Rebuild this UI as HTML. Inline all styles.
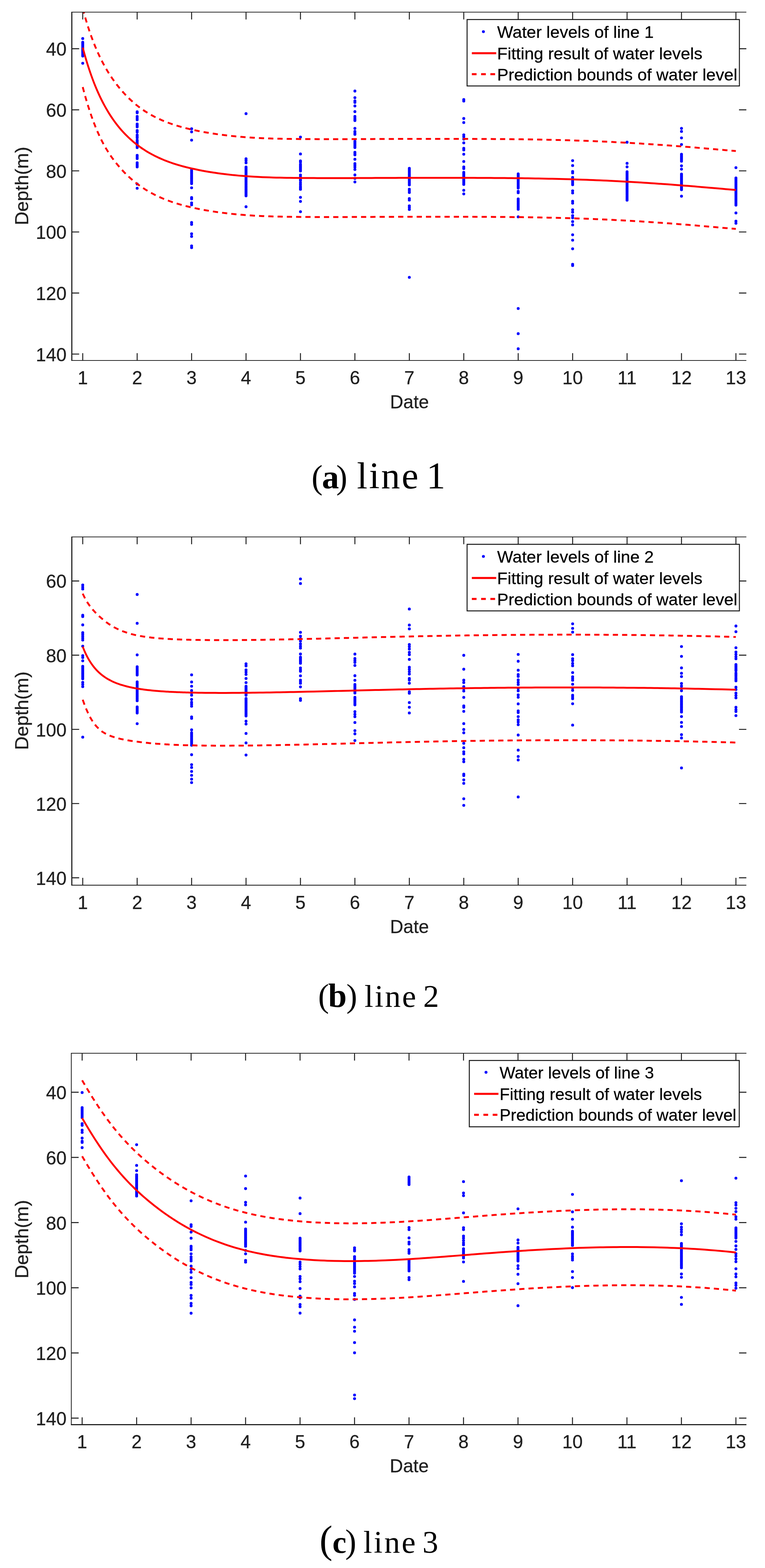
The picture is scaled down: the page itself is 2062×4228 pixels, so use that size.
<!DOCTYPE html>
<html lang="en">
<head>
<meta charset="utf-8">
<title>Water level fitting: line 1, line 2, line 3</title>
<style>html,body{margin:0;padding:0;background:#fff}body{width:2062px;height:4228px;overflow:hidden}svg{display:block}</style>
</head>
<body>
<svg width="2062" height="4228" viewBox="0 0 2062 4228">
<rect width="2062" height="4228" fill="#fff"/>
<g id="plot1">
<clipPath id="clip1"><rect x="193.6" y="32.8" width="1818.1" height="939.2"/></clipPath>
<g clip-path="url(#clip1)">
<g fill="#0000ff"><circle cx="223" cy="103.9" r="3.9"/><circle cx="223" cy="114" r="3.9"/><circle cx="223" cy="117.7" r="3.9"/><circle cx="223" cy="121.4" r="3.9"/><circle cx="223" cy="125.1" r="3.9"/><circle cx="223" cy="128.8" r="3.9"/><circle cx="223" cy="132.5" r="3.9"/><circle cx="223" cy="136.2" r="3.9"/><circle cx="223" cy="139.9" r="3.9"/><circle cx="223" cy="143.6" r="3.9"/><circle cx="223" cy="147.3" r="3.9"/><circle cx="223" cy="151" r="3.9"/><circle cx="223" cy="170.6" r="3.9"/><circle cx="369.72" cy="301.5" r="3.9"/><circle cx="369.72" cy="304" r="3.9"/><circle cx="369.72" cy="314" r="3.9"/><circle cx="369.72" cy="318.5" r="3.9"/><circle cx="369.72" cy="323" r="3.9"/><circle cx="369.72" cy="334.5" r="3.9"/><circle cx="369.72" cy="338.2" r="3.9"/><circle cx="369.72" cy="342" r="3.9"/><circle cx="369.72" cy="352" r="3.9"/><circle cx="369.72" cy="356" r="3.9"/><circle cx="369.72" cy="364" r="3.9"/><circle cx="369.72" cy="367.8" r="3.9"/><circle cx="369.72" cy="371.5" r="3.9"/><circle cx="369.72" cy="378" r="3.9"/><circle cx="369.72" cy="381.3" r="3.9"/><circle cx="369.72" cy="384.7" r="3.9"/><circle cx="369.72" cy="388" r="3.9"/><circle cx="369.72" cy="391.3" r="3.9"/><circle cx="369.72" cy="394.7" r="3.9"/><circle cx="369.72" cy="398" r="3.9"/><circle cx="369.72" cy="419" r="3.9"/><circle cx="369.72" cy="423.2" r="3.9"/><circle cx="369.72" cy="427.5" r="3.9"/><circle cx="369.72" cy="439" r="3.9"/><circle cx="369.72" cy="442.7" r="3.9"/><circle cx="369.72" cy="446.3" r="3.9"/><circle cx="369.72" cy="450" r="3.9"/><circle cx="369.72" cy="496.2" r="3.9"/><circle cx="369.72" cy="507.7" r="3.9"/><circle cx="516.44" cy="347.2" r="3.9"/><circle cx="516.44" cy="355.6" r="3.9"/><circle cx="516.44" cy="377.8" r="3.9"/><circle cx="516.44" cy="458" r="3.9"/><circle cx="516.44" cy="461.7" r="3.9"/><circle cx="516.44" cy="465.4" r="3.9"/><circle cx="516.44" cy="469.1" r="3.9"/><circle cx="516.44" cy="472.8" r="3.9"/><circle cx="516.44" cy="476.5" r="3.9"/><circle cx="516.44" cy="480.2" r="3.9"/><circle cx="516.44" cy="483.9" r="3.9"/><circle cx="516.44" cy="487.6" r="3.9"/><circle cx="516.44" cy="491.3" r="3.9"/><circle cx="516.44" cy="495" r="3.9"/><circle cx="516.44" cy="506.4" r="3.9"/><circle cx="516.44" cy="532.7" r="3.9"/><circle cx="516.44" cy="536.2" r="3.9"/><circle cx="516.44" cy="547.2" r="3.9"/><circle cx="516.44" cy="552.3" r="3.9"/><circle cx="516.44" cy="599.9" r="3.9"/><circle cx="516.44" cy="605" r="3.9"/><circle cx="516.44" cy="630.5" r="3.9"/><circle cx="516.44" cy="637.6" r="3.9"/><circle cx="516.44" cy="663.1" r="3.9"/><circle cx="516.44" cy="667.7" r="3.9"/><circle cx="663.16" cy="306.4" r="3.9"/><circle cx="663.16" cy="428.2" r="3.9"/><circle cx="663.16" cy="433" r="3.9"/><circle cx="663.16" cy="438.9" r="3.9"/><circle cx="663.16" cy="450.4" r="3.9"/><circle cx="663.16" cy="453.9" r="3.9"/><circle cx="663.16" cy="457.5" r="3.9"/><circle cx="663.16" cy="461" r="3.9"/><circle cx="663.16" cy="464.5" r="3.9"/><circle cx="663.16" cy="468.1" r="3.9"/><circle cx="663.16" cy="471.6" r="3.9"/><circle cx="663.16" cy="475.1" r="3.9"/><circle cx="663.16" cy="478.7" r="3.9"/><circle cx="663.16" cy="482.2" r="3.9"/><circle cx="663.16" cy="485.7" r="3.9"/><circle cx="663.16" cy="489.2" r="3.9"/><circle cx="663.16" cy="492.8" r="3.9"/><circle cx="663.16" cy="496.3" r="3.9"/><circle cx="663.16" cy="499.8" r="3.9"/><circle cx="663.16" cy="503.4" r="3.9"/><circle cx="663.16" cy="506.9" r="3.9"/><circle cx="663.16" cy="510.4" r="3.9"/><circle cx="663.16" cy="514" r="3.9"/><circle cx="663.16" cy="517.5" r="3.9"/><circle cx="663.16" cy="521" r="3.9"/><circle cx="663.16" cy="524.6" r="3.9"/><circle cx="663.16" cy="528.1" r="3.9"/><circle cx="663.16" cy="557.4" r="3.9"/><circle cx="809.88" cy="369.6" r="3.9"/><circle cx="809.88" cy="415.2" r="3.9"/><circle cx="809.88" cy="434" r="3.9"/><circle cx="809.88" cy="437" r="3.9"/><circle cx="809.88" cy="443" r="3.9"/><circle cx="809.88" cy="446.6" r="3.9"/><circle cx="809.88" cy="450.2" r="3.9"/><circle cx="809.88" cy="453.8" r="3.9"/><circle cx="809.88" cy="457.4" r="3.9"/><circle cx="809.88" cy="461" r="3.9"/><circle cx="809.88" cy="472" r="3.9"/><circle cx="809.88" cy="477" r="3.9"/><circle cx="809.88" cy="484" r="3.9"/><circle cx="809.88" cy="487" r="3.9"/><circle cx="809.88" cy="493" r="3.9"/><circle cx="809.88" cy="498" r="3.9"/><circle cx="809.88" cy="503" r="3.9"/><circle cx="809.88" cy="506.7" r="3.9"/><circle cx="809.88" cy="510.4" r="3.9"/><circle cx="809.88" cy="532.1" r="3.9"/><circle cx="809.88" cy="543.1" r="3.9"/><circle cx="809.88" cy="570.8" r="3.9"/><circle cx="956.6" cy="245.5" r="3.9"/><circle cx="956.6" cy="263.3" r="3.9"/><circle cx="956.6" cy="272.2" r="3.9"/><circle cx="956.6" cy="276.1" r="3.9"/><circle cx="956.6" cy="285.7" r="3.9"/><circle cx="956.6" cy="301" r="3.9"/><circle cx="956.6" cy="313.8" r="3.9"/><circle cx="956.6" cy="318.1" r="3.9"/><circle cx="956.6" cy="321.9" r="3.9"/><circle cx="956.6" cy="325" r="3.9"/><circle cx="956.6" cy="346.1" r="3.9"/><circle cx="956.6" cy="354.5" r="3.9"/><circle cx="956.6" cy="358.9" r="3.9"/><circle cx="956.6" cy="362.2" r="3.9"/><circle cx="956.6" cy="381" r="3.9"/><circle cx="956.6" cy="384.4" r="3.9"/><circle cx="956.6" cy="387.7" r="3.9"/><circle cx="956.6" cy="391.1" r="3.9"/><circle cx="956.6" cy="394.4" r="3.9"/><circle cx="956.6" cy="397.8" r="3.9"/><circle cx="956.6" cy="410.6" r="3.9"/><circle cx="956.6" cy="414.1" r="3.9"/><circle cx="956.6" cy="417.5" r="3.9"/><circle cx="956.6" cy="429.4" r="3.9"/><circle cx="956.6" cy="441.1" r="3.9"/><circle cx="956.6" cy="445.5" r="3.9"/><circle cx="956.6" cy="450.6" r="3.9"/><circle cx="956.6" cy="456.9" r="3.9"/><circle cx="956.6" cy="471.7" r="3.9"/><circle cx="956.6" cy="481.1" r="3.9"/><circle cx="956.6" cy="490.6" r="3.9"/><circle cx="1103.32" cy="454" r="3.9"/><circle cx="1103.32" cy="457.7" r="3.9"/><circle cx="1103.32" cy="461.4" r="3.9"/><circle cx="1103.32" cy="465.1" r="3.9"/><circle cx="1103.32" cy="468.9" r="3.9"/><circle cx="1103.32" cy="472.6" r="3.9"/><circle cx="1103.32" cy="476.3" r="3.9"/><circle cx="1103.32" cy="480" r="3.9"/><circle cx="1103.32" cy="483.7" r="3.9"/><circle cx="1103.32" cy="487.5" r="3.9"/><circle cx="1103.32" cy="491.2" r="3.9"/><circle cx="1103.32" cy="494.9" r="3.9"/><circle cx="1103.32" cy="498.6" r="3.9"/><circle cx="1103.32" cy="510.1" r="3.9"/><circle cx="1103.32" cy="514.5" r="3.9"/><circle cx="1103.32" cy="519" r="3.9"/><circle cx="1103.32" cy="535.5" r="3.9"/><circle cx="1103.32" cy="539.4" r="3.9"/><circle cx="1103.32" cy="555.2" r="3.9"/><circle cx="1103.32" cy="559.7" r="3.9"/><circle cx="1103.32" cy="564.8" r="3.9"/><circle cx="1103.32" cy="747.8" r="3.9"/><circle cx="1250.04" cy="268.5" r="3.9"/><circle cx="1250.04" cy="272.4" r="3.9"/><circle cx="1250.04" cy="319.5" r="3.9"/><circle cx="1250.04" cy="330.4" r="3.9"/><circle cx="1250.04" cy="363.6" r="3.9"/><circle cx="1250.04" cy="368.7" r="3.9"/><circle cx="1250.04" cy="375" r="3.9"/><circle cx="1250.04" cy="385.2" r="3.9"/><circle cx="1250.04" cy="400" r="3.9"/><circle cx="1250.04" cy="404.3" r="3.9"/><circle cx="1250.04" cy="415.8" r="3.9"/><circle cx="1250.04" cy="435.4" r="3.9"/><circle cx="1250.04" cy="450.2" r="3.9"/><circle cx="1250.04" cy="454.5" r="3.9"/><circle cx="1250.04" cy="464.7" r="3.9"/><circle cx="1250.04" cy="468.3" r="3.9"/><circle cx="1250.04" cy="471.9" r="3.9"/><circle cx="1250.04" cy="475.6" r="3.9"/><circle cx="1250.04" cy="479.2" r="3.9"/><circle cx="1250.04" cy="482.8" r="3.9"/><circle cx="1250.04" cy="486.4" r="3.9"/><circle cx="1250.04" cy="490.1" r="3.9"/><circle cx="1250.04" cy="493.7" r="3.9"/><circle cx="1250.04" cy="497.3" r="3.9"/><circle cx="1250.04" cy="513.1" r="3.9"/><circle cx="1250.04" cy="522.8" r="3.9"/><circle cx="1396.76" cy="468.8" r="3.9"/><circle cx="1396.76" cy="472.3" r="3.9"/><circle cx="1396.76" cy="475.7" r="3.9"/><circle cx="1396.76" cy="479.2" r="3.9"/><circle cx="1396.76" cy="482.7" r="3.9"/><circle cx="1396.76" cy="486.2" r="3.9"/><circle cx="1396.76" cy="489.6" r="3.9"/><circle cx="1396.76" cy="493.1" r="3.9"/><circle cx="1396.76" cy="496.6" r="3.9"/><circle cx="1396.76" cy="500.1" r="3.9"/><circle cx="1396.76" cy="503.5" r="3.9"/><circle cx="1396.76" cy="507" r="3.9"/><circle cx="1396.76" cy="515.9" r="3.9"/><circle cx="1396.76" cy="519.7" r="3.9"/><circle cx="1396.76" cy="536.3" r="3.9"/><circle cx="1396.76" cy="539.8" r="3.9"/><circle cx="1396.76" cy="543.3" r="3.9"/><circle cx="1396.76" cy="546.8" r="3.9"/><circle cx="1396.76" cy="550.3" r="3.9"/><circle cx="1396.76" cy="553.8" r="3.9"/><circle cx="1396.76" cy="557.3" r="3.9"/><circle cx="1396.76" cy="560.8" r="3.9"/><circle cx="1396.76" cy="564.3" r="3.9"/><circle cx="1396.76" cy="584.7" r="3.9"/><circle cx="1396.76" cy="831.8" r="3.9"/><circle cx="1396.76" cy="899.7" r="3.9"/><circle cx="1396.76" cy="940.5" r="3.9"/><circle cx="1543.48" cy="433.1" r="3.9"/><circle cx="1543.48" cy="446.4" r="3.9"/><circle cx="1543.48" cy="462.4" r="3.9"/><circle cx="1543.48" cy="466.2" r="3.9"/><circle cx="1543.48" cy="478.5" r="3.9"/><circle cx="1543.48" cy="482.4" r="3.9"/><circle cx="1543.48" cy="486.3" r="3.9"/><circle cx="1543.48" cy="490.3" r="3.9"/><circle cx="1543.48" cy="494.2" r="3.9"/><circle cx="1543.48" cy="498.1" r="3.9"/><circle cx="1543.48" cy="514.6" r="3.9"/><circle cx="1543.48" cy="520.3" r="3.9"/><circle cx="1543.48" cy="542.7" r="3.9"/><circle cx="1543.48" cy="547.8" r="3.9"/><circle cx="1543.48" cy="565.6" r="3.9"/><circle cx="1543.48" cy="572" r="3.9"/><circle cx="1543.48" cy="581.4" r="3.9"/><circle cx="1543.48" cy="587.3" r="3.9"/><circle cx="1543.48" cy="597.5" r="3.9"/><circle cx="1543.48" cy="606.4" r="3.9"/><circle cx="1543.48" cy="633.1" r="3.9"/><circle cx="1543.48" cy="647.6" r="3.9"/><circle cx="1543.48" cy="670.8" r="3.9"/><circle cx="1543.48" cy="712.6" r="3.9"/><circle cx="1543.48" cy="715.9" r="3.9"/><circle cx="1690.2" cy="383.5" r="3.9"/><circle cx="1690.2" cy="440.4" r="3.9"/><circle cx="1690.2" cy="449.8" r="3.9"/><circle cx="1690.2" cy="463.1" r="3.9"/><circle cx="1690.2" cy="466.7" r="3.9"/><circle cx="1690.2" cy="470.4" r="3.9"/><circle cx="1690.2" cy="474" r="3.9"/><circle cx="1690.2" cy="477.7" r="3.9"/><circle cx="1690.2" cy="481.3" r="3.9"/><circle cx="1690.2" cy="485" r="3.9"/><circle cx="1690.2" cy="488.6" r="3.9"/><circle cx="1690.2" cy="492.3" r="3.9"/><circle cx="1690.2" cy="495.9" r="3.9"/><circle cx="1690.2" cy="499.6" r="3.9"/><circle cx="1690.2" cy="503.2" r="3.9"/><circle cx="1690.2" cy="506.9" r="3.9"/><circle cx="1690.2" cy="510.5" r="3.9"/><circle cx="1690.2" cy="514.2" r="3.9"/><circle cx="1690.2" cy="517.8" r="3.9"/><circle cx="1690.2" cy="521.5" r="3.9"/><circle cx="1690.2" cy="525.1" r="3.9"/><circle cx="1690.2" cy="528.8" r="3.9"/><circle cx="1690.2" cy="532.4" r="3.9"/><circle cx="1690.2" cy="536.1" r="3.9"/><circle cx="1690.2" cy="539.7" r="3.9"/><circle cx="1836.92" cy="346.1" r="3.9"/><circle cx="1836.92" cy="354.4" r="3.9"/><circle cx="1836.92" cy="371.8" r="3.9"/><circle cx="1836.92" cy="389.6" r="3.9"/><circle cx="1836.92" cy="416" r="3.9"/><circle cx="1836.92" cy="419.7" r="3.9"/><circle cx="1836.92" cy="423.5" r="3.9"/><circle cx="1836.92" cy="427.2" r="3.9"/><circle cx="1836.92" cy="431" r="3.9"/><circle cx="1836.92" cy="434.7" r="3.9"/><circle cx="1836.92" cy="447.1" r="3.9"/><circle cx="1836.92" cy="456.1" r="3.9"/><circle cx="1836.92" cy="469.5" r="3.9"/><circle cx="1836.92" cy="473" r="3.9"/><circle cx="1836.92" cy="476.5" r="3.9"/><circle cx="1836.92" cy="480" r="3.9"/><circle cx="1836.92" cy="483.5" r="3.9"/><circle cx="1836.92" cy="487" r="3.9"/><circle cx="1836.92" cy="490.6" r="3.9"/><circle cx="1836.92" cy="494.1" r="3.9"/><circle cx="1836.92" cy="497.6" r="3.9"/><circle cx="1836.92" cy="501.1" r="3.9"/><circle cx="1836.92" cy="504.6" r="3.9"/><circle cx="1836.92" cy="508.1" r="3.9"/><circle cx="1836.92" cy="511.6" r="3.9"/><circle cx="1836.92" cy="529" r="3.9"/><circle cx="1983.64" cy="452.1" r="3.9"/><circle cx="1983.64" cy="479.9" r="3.9"/><circle cx="1983.64" cy="483.6" r="3.9"/><circle cx="1983.64" cy="487.2" r="3.9"/><circle cx="1983.64" cy="490.9" r="3.9"/><circle cx="1983.64" cy="494.5" r="3.9"/><circle cx="1983.64" cy="498.2" r="3.9"/><circle cx="1983.64" cy="501.9" r="3.9"/><circle cx="1983.64" cy="505.5" r="3.9"/><circle cx="1983.64" cy="509.2" r="3.9"/><circle cx="1983.64" cy="512.8" r="3.9"/><circle cx="1983.64" cy="516.5" r="3.9"/><circle cx="1983.64" cy="520.2" r="3.9"/><circle cx="1983.64" cy="523.8" r="3.9"/><circle cx="1983.64" cy="527.5" r="3.9"/><circle cx="1983.64" cy="531.1" r="3.9"/><circle cx="1983.64" cy="534.8" r="3.9"/><circle cx="1983.64" cy="538.5" r="3.9"/><circle cx="1983.64" cy="542.1" r="3.9"/><circle cx="1983.64" cy="545.8" r="3.9"/><circle cx="1983.64" cy="549.4" r="3.9"/><circle cx="1983.64" cy="553.1" r="3.9"/><circle cx="1983.64" cy="574.2" r="3.9"/><circle cx="1983.64" cy="596.3" r="3.9"/><circle cx="1983.64" cy="601.9" r="3.9"/></g>
<path d="M223,23.03 C223.98,26.58 226.91,37.52 228.87,44.35 C230.83,51.18 232.79,57.71 234.74,64.02 C236.69,70.33 238.64,76.38 240.6,82.21 C242.56,88.04 244.51,93.63 246.47,99.03 C248.43,104.43 250.38,109.62 252.34,114.63 C254.3,119.64 256.25,124.45 258.21,129.1 C260.17,133.75 262.12,138.22 264.08,142.55 C266.03,146.88 267.99,151.05 269.94,155.08 C271.89,159.12 273.85,162.99 275.81,166.76 C277.77,170.53 279.72,174.16 281.68,177.69 C283.64,181.22 285.59,184.62 287.55,187.93 C289.51,191.24 291.47,194.44 293.42,197.55 C295.38,200.66 297.32,203.67 299.28,206.6 C301.23,209.53 303.19,212.38 305.15,215.15 C307.11,217.92 309.06,220.61 311.02,223.23 C312.98,225.85 314.93,228.4 316.89,230.89 C318.85,233.38 320.81,235.8 322.76,238.16 C324.71,240.52 326.67,242.82 328.62,245.07 C330.57,247.31 332.53,249.5 334.49,251.63 C336.45,253.76 338.4,255.84 340.36,257.87 C342.32,259.9 344.27,261.87 346.23,263.8 C348.19,265.73 350.15,267.6 352.1,269.43 C354.06,271.26 356,273.03 357.96,274.77 C359.91,276.5 361.87,278.19 363.83,279.84 C365.79,281.48 367.74,283.08 369.7,284.64 C371.66,286.2 373.61,287.71 375.57,289.19 C377.53,290.67 379.49,292.1 381.44,293.49 C383.39,294.88 385.35,296.24 387.3,297.56 C389.25,298.88 391.21,300.16 393.17,301.41 C395.13,302.66 397.08,303.87 399.04,305.05 C401,306.23 402.95,307.38 404.91,308.5 C406.87,309.62 408.82,310.7 410.78,311.76 C412.73,312.82 414.69,313.85 416.64,314.85 C418.59,315.85 420.55,316.83 422.51,317.78 C424.47,318.73 426.42,319.66 428.38,320.56 C430.34,321.46 432.29,322.34 434.25,323.2 C436.21,324.06 438.17,324.89 440.12,325.71 C442.07,326.52 444.03,327.31 445.98,328.09 C447.94,328.87 449.89,329.62 451.85,330.36 C453.81,331.1 455.76,331.81 457.72,332.51 C459.68,333.21 461.63,333.89 463.59,334.56 C465.55,335.23 467.5,335.88 469.46,336.51 C471.41,337.14 473.37,337.76 475.32,338.37 C477.27,338.98 479.23,339.57 481.19,340.15 C483.15,340.73 485.1,341.3 487.06,341.85 C489.02,342.4 490.97,342.94 492.93,343.47 C494.89,344 496.85,344.51 498.8,345.02 C500.75,345.52 502.71,346.02 504.66,346.5 C506.62,346.98 508.57,347.46 510.53,347.92 C512.49,348.38 512.37,348.41 516.4,349.29 C520.43,350.17 528.63,351.99 534.74,353.22 C540.85,354.45 546.97,355.6 553.08,356.69 C559.19,357.78 565.3,358.8 571.41,359.76 C577.52,360.72 583.64,361.61 589.75,362.45 C595.86,363.29 601.98,364.07 608.09,364.81 C614.2,365.55 620.31,366.24 626.42,366.87 C632.53,367.5 638.65,368.08 644.76,368.62 C650.87,369.16 656.99,369.65 663.1,370.1 C669.21,370.55 675.33,370.95 681.44,371.31 C687.55,371.67 693.66,371.99 699.77,372.28 C705.88,372.57 712,372.83 718.11,373.06 C724.22,373.29 730.34,373.48 736.45,373.66 C742.56,373.84 748.68,373.99 754.79,374.12 C760.9,374.25 767.01,374.36 773.12,374.46 C779.23,374.56 785.35,374.65 791.46,374.72 C797.57,374.79 803.69,374.85 809.8,374.9 C815.91,374.95 822.03,374.99 828.14,375.03 C834.25,375.07 840.36,375.1 846.47,375.12 C852.58,375.14 858.7,375.17 864.81,375.18 C870.92,375.19 877.04,375.2 883.15,375.21 C889.26,375.21 895.38,375.21 901.49,375.21 C907.6,375.21 913.71,375.2 919.82,375.19 C925.93,375.18 932.05,375.16 938.16,375.15 C944.27,375.13 950.39,375.12 956.5,375.1 C962.61,375.08 968.73,375.05 974.84,375.03 C980.95,375.01 987.06,374.99 993.17,374.96 C999.28,374.93 1005.4,374.9 1011.51,374.87 C1017.62,374.84 1023.74,374.82 1029.85,374.79 C1035.96,374.76 1042.08,374.74 1048.19,374.71 C1054.3,374.68 1060.42,374.65 1066.53,374.63 C1072.64,374.61 1078.75,374.58 1084.86,374.56 C1090.97,374.54 1097.09,374.52 1103.2,374.5 C1109.31,374.48 1115.43,374.46 1121.54,374.45 C1127.65,374.44 1133.77,374.43 1139.88,374.42 C1145.99,374.41 1152.1,374.4 1158.21,374.4 C1164.32,374.4 1170.44,374.4 1176.55,374.4 C1182.66,374.4 1188.78,374.4 1194.89,374.4 C1201,374.4 1207.11,374.41 1213.22,374.42 C1219.33,374.43 1225.45,374.45 1231.56,374.46 C1237.67,374.47 1243.79,374.48 1249.9,374.5 C1256.01,374.52 1262.13,374.54 1268.24,374.56 C1274.35,374.58 1280.46,374.61 1286.57,374.63 C1292.68,374.65 1298.8,374.68 1304.91,374.71 C1311.02,374.74 1317.14,374.78 1323.25,374.82 C1329.36,374.86 1335.48,374.9 1341.59,374.95 C1347.7,375 1353.81,375.04 1359.92,375.1 C1366.03,375.16 1372.15,375.22 1378.26,375.29 C1384.37,375.36 1390.49,375.42 1396.6,375.5 C1402.71,375.58 1408.83,375.66 1414.94,375.75 C1421.05,375.84 1427.16,375.93 1433.27,376.03 C1439.38,376.13 1445.5,376.24 1451.61,376.35 C1457.72,376.46 1463.84,376.58 1469.95,376.71 C1476.06,376.84 1482.18,376.98 1488.29,377.12 C1494.4,377.26 1500.51,377.4 1506.62,377.56 C1512.73,377.72 1518.85,377.89 1524.96,378.06 C1531.07,378.23 1537.19,378.41 1543.3,378.6 C1549.41,378.79 1555.53,378.98 1561.64,379.19 C1567.75,379.4 1573.86,379.61 1579.97,379.84 C1586.08,380.06 1592.2,380.3 1598.31,380.54 C1604.42,380.78 1610.54,381.03 1616.65,381.29 C1622.76,381.55 1628.88,381.82 1634.99,382.1 C1641.1,382.38 1647.21,382.67 1653.32,382.97 C1659.43,383.27 1665.55,383.59 1671.66,383.91 C1677.77,384.23 1683.89,384.56 1690,384.9 C1696.11,385.24 1702.23,385.6 1708.34,385.96 C1714.45,386.32 1720.56,386.7 1726.67,387.08 C1732.78,387.46 1738.9,387.85 1745.01,388.25 C1751.12,388.65 1757.24,389.06 1763.35,389.48 C1769.46,389.9 1775.58,390.33 1781.69,390.77 C1787.8,391.21 1793.91,391.65 1800.02,392.1 C1806.13,392.55 1812.25,393.01 1818.36,393.48 C1824.47,393.95 1830.59,394.42 1836.7,394.9 C1842.81,395.38 1848.93,395.87 1855.04,396.36 C1861.15,396.85 1867.26,397.36 1873.37,397.86 C1879.48,398.37 1885.6,398.88 1891.71,399.39 C1897.82,399.9 1903.94,400.42 1910.05,400.94 C1916.16,401.46 1922.28,401.98 1928.39,402.51 C1934.5,403.04 1940.61,403.57 1946.72,404.1 C1952.83,404.63 1958.95,405.17 1965.06,405.7 C1971.17,406.23 1980.34,407.03 1983.4,407.3" fill="none" stroke="#ff0000" stroke-width="5.0" stroke-dasharray="14 11" stroke-dashoffset="0"/>
<path d="M223,234.76 C223.98,238.4 226.91,249.58 228.87,256.59 C230.83,263.6 232.79,270.32 234.74,276.82 C236.69,283.32 238.64,289.56 240.6,295.59 C242.56,301.62 244.51,307.4 246.47,312.99 C248.43,318.58 250.38,323.94 252.34,329.12 C254.3,334.3 256.25,339.26 258.21,344.05 C260.17,348.84 262.12,353.43 264.08,357.85 C266.03,362.27 267.99,366.51 269.94,370.59 C271.89,374.67 273.85,378.58 275.81,382.35 C277.77,386.12 279.72,389.73 281.68,393.22 C283.64,396.71 285.59,400.05 287.55,403.28 C289.51,406.51 291.47,409.61 293.42,412.62 C295.38,415.63 297.32,418.52 299.28,421.34 C301.23,424.15 303.19,426.87 305.15,429.51 C307.11,432.15 309.06,434.71 311.02,437.2 C312.98,439.69 314.93,442.11 316.89,444.47 C318.85,446.83 320.81,449.13 322.76,451.37 C324.71,453.61 326.67,455.78 328.62,457.91 C330.57,460.04 332.53,462.12 334.49,464.14 C336.45,466.16 338.4,468.13 340.36,470.06 C342.32,471.99 344.27,473.87 346.23,475.7 C348.19,477.53 350.15,479.32 352.1,481.06 C354.06,482.8 356,484.5 357.96,486.15 C359.91,487.8 361.87,489.41 363.83,490.98 C365.79,492.55 367.74,494.09 369.7,495.58 C371.66,497.07 373.61,498.52 375.57,499.94 C377.53,501.36 379.49,502.74 381.44,504.09 C383.39,505.44 385.35,506.74 387.3,508.02 C389.25,509.3 391.21,510.55 393.17,511.76 C395.13,512.98 397.08,514.15 399.04,515.31 C401,516.46 402.95,517.59 404.91,518.69 C406.87,519.79 408.82,520.86 410.78,521.9 C412.73,522.94 414.69,523.96 416.64,524.95 C418.59,525.94 420.55,526.91 422.51,527.85 C424.47,528.79 426.42,529.71 428.38,530.61 C430.34,531.51 432.29,532.38 434.25,533.23 C436.21,534.08 438.17,534.92 440.12,535.73 C442.07,536.54 444.03,537.33 445.98,538.1 C447.94,538.87 449.89,539.62 451.85,540.36 C453.81,541.1 455.76,541.81 457.72,542.51 C459.68,543.21 461.63,543.89 463.59,544.56 C465.55,545.23 467.5,545.88 469.46,546.51 C471.41,547.14 473.37,547.76 475.32,548.37 C477.27,548.98 479.23,549.57 481.19,550.15 C483.15,550.73 485.1,551.3 487.06,551.85 C489.02,552.4 490.97,552.94 492.93,553.47 C494.89,554 496.85,554.51 498.8,555.02 C500.75,555.52 502.71,556.02 504.66,556.5 C506.62,556.98 508.57,557.45 510.53,557.92 C512.49,558.38 512.37,558.41 516.4,559.29 C520.43,560.17 528.63,561.99 534.74,563.22 C540.85,564.45 546.97,565.6 553.08,566.69 C559.19,567.78 565.3,568.8 571.41,569.76 C577.52,570.72 583.64,571.61 589.75,572.45 C595.86,573.29 601.98,574.07 608.09,574.81 C614.2,575.55 620.31,576.24 626.42,576.87 C632.53,577.5 638.65,578.08 644.76,578.62 C650.87,579.16 656.99,579.65 663.1,580.1 C669.21,580.55 675.33,580.95 681.44,581.31 C687.55,581.67 693.66,581.99 699.77,582.28 C705.88,582.57 712,582.83 718.11,583.06 C724.22,583.29 730.34,583.48 736.45,583.66 C742.56,583.84 748.68,583.99 754.79,584.12 C760.9,584.25 767.01,584.36 773.12,584.46 C779.23,584.56 785.35,584.65 791.46,584.72 C797.57,584.79 803.69,584.85 809.8,584.9 C815.91,584.95 822.03,584.99 828.14,585.03 C834.25,585.07 840.36,585.1 846.47,585.12 C852.58,585.14 858.7,585.16 864.81,585.18 C870.92,585.19 877.04,585.21 883.15,585.21 C889.26,585.22 895.38,585.21 901.49,585.21 C907.6,585.21 913.71,585.2 919.82,585.19 C925.93,585.18 932.05,585.16 938.16,585.15 C944.27,585.13 950.39,585.12 956.5,585.1 C962.61,585.08 968.73,585.05 974.84,585.03 C980.95,585.01 987.06,584.99 993.17,584.96 C999.28,584.93 1005.4,584.9 1011.51,584.87 C1017.62,584.84 1023.74,584.82 1029.85,584.79 C1035.96,584.76 1042.08,584.74 1048.19,584.71 C1054.3,584.68 1060.42,584.65 1066.53,584.63 C1072.64,584.61 1078.75,584.58 1084.86,584.56 C1090.97,584.54 1097.09,584.52 1103.2,584.5 C1109.31,584.48 1115.43,584.46 1121.54,584.45 C1127.65,584.44 1133.77,584.43 1139.88,584.42 C1145.99,584.41 1152.1,584.4 1158.21,584.4 C1164.32,584.4 1170.44,584.4 1176.55,584.4 C1182.66,584.4 1188.78,584.4 1194.89,584.4 C1201,584.4 1207.11,584.41 1213.22,584.42 C1219.33,584.43 1225.45,584.45 1231.56,584.46 C1237.67,584.47 1243.79,584.48 1249.9,584.5 C1256.01,584.52 1262.13,584.54 1268.24,584.56 C1274.35,584.58 1280.46,584.61 1286.57,584.63 C1292.68,584.65 1298.8,584.68 1304.91,584.71 C1311.02,584.74 1317.14,584.78 1323.25,584.82 C1329.36,584.86 1335.48,584.9 1341.59,584.95 C1347.7,585 1353.81,585.04 1359.92,585.1 C1366.03,585.16 1372.15,585.22 1378.26,585.29 C1384.37,585.36 1390.49,585.42 1396.6,585.5 C1402.71,585.58 1408.83,585.66 1414.94,585.75 C1421.05,585.84 1427.16,585.93 1433.27,586.03 C1439.38,586.13 1445.5,586.24 1451.61,586.35 C1457.72,586.46 1463.84,586.58 1469.95,586.71 C1476.06,586.84 1482.18,586.98 1488.29,587.12 C1494.4,587.26 1500.51,587.4 1506.62,587.56 C1512.73,587.72 1518.85,587.89 1524.96,588.06 C1531.07,588.23 1537.19,588.41 1543.3,588.6 C1549.41,588.79 1555.53,588.98 1561.64,589.19 C1567.75,589.4 1573.86,589.62 1579.97,589.84 C1586.08,590.07 1592.2,590.3 1598.31,590.54 C1604.42,590.78 1610.54,591.03 1616.65,591.29 C1622.76,591.55 1628.88,591.82 1634.99,592.1 C1641.1,592.38 1647.21,592.67 1653.32,592.97 C1659.43,593.27 1665.55,593.59 1671.66,593.91 C1677.77,594.23 1683.89,594.56 1690,594.9 C1696.11,595.24 1702.23,595.6 1708.34,595.96 C1714.45,596.32 1720.56,596.7 1726.67,597.08 C1732.78,597.46 1738.9,597.85 1745.01,598.25 C1751.12,598.65 1757.24,599.06 1763.35,599.48 C1769.46,599.9 1775.58,600.33 1781.69,600.77 C1787.8,601.21 1793.91,601.65 1800.02,602.1 C1806.13,602.55 1812.25,603.01 1818.36,603.48 C1824.47,603.95 1830.59,604.42 1836.7,604.9 C1842.81,605.38 1848.93,605.87 1855.04,606.36 C1861.15,606.85 1867.26,607.36 1873.37,607.86 C1879.48,608.37 1885.6,608.88 1891.71,609.39 C1897.82,609.9 1903.94,610.42 1910.05,610.94 C1916.16,611.46 1922.28,611.98 1928.39,612.51 C1934.5,613.04 1940.61,613.57 1946.72,614.1 C1952.83,614.63 1958.95,615.17 1965.06,615.7 C1971.17,616.23 1980.34,617.03 1983.4,617.3" fill="none" stroke="#ff0000" stroke-width="5.0" stroke-dasharray="14 11" stroke-dashoffset="0"/>
<path d="M223,128.29 C223.98,131.86 226.91,142.83 228.87,149.7 C230.83,156.56 232.79,163.13 234.74,169.48 C236.69,175.83 238.64,181.92 240.6,187.8 C242.56,193.68 244.51,199.32 246.47,204.78 C248.43,210.24 250.38,215.48 252.34,220.55 C254.3,225.62 256.25,230.49 258.21,235.21 C260.17,239.93 262.12,244.47 264.08,248.87 C266.03,253.27 267.99,257.5 269.94,261.61 C271.89,265.72 273.85,269.67 275.81,273.51 C277.77,277.35 279.72,281.05 281.68,284.64 C283.64,288.23 285.59,291.69 287.55,295.06 C289.51,298.43 291.47,301.67 293.42,304.83 C295.38,307.99 297.32,311.03 299.28,314 C301.23,316.97 303.19,319.83 305.15,322.62 C307.11,325.41 309.06,328.11 311.02,330.73 C312.98,333.36 314.93,335.9 316.89,338.37 C318.85,340.84 320.81,343.23 322.76,345.56 C324.71,347.89 326.67,350.15 328.62,352.35 C330.57,354.55 332.53,356.68 334.49,358.76 C336.45,360.84 338.4,362.86 340.36,364.82 C342.32,366.78 344.27,368.68 346.23,370.54 C348.19,372.4 350.15,374.2 352.1,375.96 C354.06,377.72 356,379.42 357.96,381.09 C359.91,382.75 361.87,384.37 363.83,385.95 C365.79,387.53 367.74,389.06 369.7,390.56 C371.66,392.06 373.61,393.51 375.57,394.93 C377.53,396.35 379.49,397.73 381.44,399.08 C383.39,400.43 385.35,401.74 387.3,403.02 C389.25,404.3 391.21,405.54 393.17,406.76 C395.13,407.98 397.08,409.15 399.04,410.31 C401,411.47 402.95,412.59 404.91,413.69 C406.87,414.79 408.82,415.86 410.78,416.9 C412.73,417.94 414.69,418.96 416.64,419.95 C418.59,420.94 420.55,421.91 422.51,422.85 C424.47,423.79 426.42,424.71 428.38,425.61 C430.34,426.51 432.29,427.38 434.25,428.23 C436.21,429.08 438.17,429.92 440.12,430.73 C442.07,431.54 444.03,432.33 445.98,433.1 C447.94,433.87 449.89,434.62 451.85,435.36 C453.81,436.1 455.76,436.81 457.72,437.51 C459.68,438.21 461.63,438.89 463.59,439.56 C465.55,440.23 467.5,440.88 469.46,441.51 C471.41,442.14 473.37,442.76 475.32,443.37 C477.27,443.98 479.23,444.57 481.19,445.15 C483.15,445.73 485.1,446.3 487.06,446.85 C489.02,447.4 490.97,447.94 492.93,448.47 C494.89,449 496.85,449.51 498.8,450.02 C500.75,450.52 502.71,451.02 504.66,451.5 C506.62,451.98 508.57,452.46 510.53,452.92 C512.49,453.38 512.37,453.41 516.4,454.29 C520.43,455.17 528.63,456.99 534.74,458.22 C540.85,459.45 546.97,460.6 553.08,461.69 C559.19,462.78 565.3,463.8 571.41,464.76 C577.52,465.72 583.64,466.61 589.75,467.45 C595.86,468.29 601.98,469.07 608.09,469.81 C614.2,470.55 620.31,471.24 626.42,471.87 C632.53,472.5 638.65,473.08 644.76,473.62 C650.87,474.16 656.99,474.65 663.1,475.1 C669.21,475.55 675.33,475.95 681.44,476.31 C687.55,476.67 693.66,476.99 699.77,477.28 C705.88,477.57 712,477.83 718.11,478.06 C724.22,478.29 730.34,478.48 736.45,478.66 C742.56,478.84 748.68,478.99 754.79,479.12 C760.9,479.25 767.01,479.36 773.12,479.46 C779.23,479.56 785.35,479.65 791.46,479.72 C797.57,479.79 803.69,479.85 809.8,479.9 C815.91,479.95 822.03,479.99 828.14,480.03 C834.25,480.07 840.36,480.1 846.47,480.12 C852.58,480.14 858.7,480.17 864.81,480.18 C870.92,480.19 877.04,480.2 883.15,480.21 C889.26,480.21 895.38,480.21 901.49,480.21 C907.6,480.21 913.71,480.2 919.82,480.19 C925.93,480.18 932.05,480.16 938.16,480.15 C944.27,480.13 950.39,480.12 956.5,480.1 C962.61,480.08 968.73,480.05 974.84,480.03 C980.95,480.01 987.06,479.99 993.17,479.96 C999.28,479.93 1005.4,479.9 1011.51,479.87 C1017.62,479.84 1023.74,479.82 1029.85,479.79 C1035.96,479.76 1042.08,479.74 1048.19,479.71 C1054.3,479.68 1060.42,479.65 1066.53,479.63 C1072.64,479.61 1078.75,479.58 1084.86,479.56 C1090.97,479.54 1097.09,479.52 1103.2,479.5 C1109.31,479.48 1115.43,479.46 1121.54,479.45 C1127.65,479.44 1133.77,479.43 1139.88,479.42 C1145.99,479.41 1152.1,479.4 1158.21,479.4 C1164.32,479.4 1170.44,479.4 1176.55,479.4 C1182.66,479.4 1188.78,479.4 1194.89,479.4 C1201,479.4 1207.11,479.41 1213.22,479.42 C1219.33,479.43 1225.45,479.45 1231.56,479.46 C1237.67,479.47 1243.79,479.48 1249.9,479.5 C1256.01,479.52 1262.13,479.54 1268.24,479.56 C1274.35,479.58 1280.46,479.61 1286.57,479.63 C1292.68,479.65 1298.8,479.68 1304.91,479.71 C1311.02,479.74 1317.14,479.78 1323.25,479.82 C1329.36,479.86 1335.48,479.9 1341.59,479.95 C1347.7,480 1353.81,480.04 1359.92,480.1 C1366.03,480.16 1372.15,480.22 1378.26,480.29 C1384.37,480.36 1390.49,480.42 1396.6,480.5 C1402.71,480.58 1408.83,480.66 1414.94,480.75 C1421.05,480.84 1427.16,480.93 1433.27,481.03 C1439.38,481.13 1445.5,481.24 1451.61,481.35 C1457.72,481.46 1463.84,481.58 1469.95,481.71 C1476.06,481.84 1482.18,481.98 1488.29,482.12 C1494.4,482.26 1500.51,482.4 1506.62,482.56 C1512.73,482.72 1518.85,482.89 1524.96,483.06 C1531.07,483.23 1537.19,483.41 1543.3,483.6 C1549.41,483.79 1555.53,483.98 1561.64,484.19 C1567.75,484.4 1573.86,484.61 1579.97,484.84 C1586.08,485.06 1592.2,485.3 1598.31,485.54 C1604.42,485.78 1610.54,486.03 1616.65,486.29 C1622.76,486.55 1628.88,486.82 1634.99,487.1 C1641.1,487.38 1647.21,487.67 1653.32,487.97 C1659.43,488.27 1665.55,488.59 1671.66,488.91 C1677.77,489.23 1683.89,489.56 1690,489.9 C1696.11,490.24 1702.23,490.6 1708.34,490.96 C1714.45,491.32 1720.56,491.7 1726.67,492.08 C1732.78,492.46 1738.9,492.85 1745.01,493.25 C1751.12,493.65 1757.24,494.06 1763.35,494.48 C1769.46,494.9 1775.58,495.33 1781.69,495.77 C1787.8,496.21 1793.91,496.65 1800.02,497.1 C1806.13,497.55 1812.25,498.01 1818.36,498.48 C1824.47,498.95 1830.59,499.42 1836.7,499.9 C1842.81,500.38 1848.93,500.87 1855.04,501.36 C1861.15,501.85 1867.26,502.36 1873.37,502.86 C1879.48,503.37 1885.6,503.88 1891.71,504.39 C1897.82,504.9 1903.94,505.42 1910.05,505.94 C1916.16,506.46 1922.28,506.98 1928.39,507.51 C1934.5,508.04 1940.61,508.57 1946.72,509.1 C1952.83,509.63 1958.95,510.17 1965.06,510.7 C1971.17,511.23 1980.34,512.03 1983.4,512.3" fill="none" stroke="#ff0000" stroke-width="5.0"/>
</g>
<g stroke="#1f1f1f" fill="none" stroke-linecap="butt">
<line x1="193.6" y1="32.8" x2="193.6" y2="973.05" stroke-width="3.0"/>
<line x1="192.1" y1="972" x2="2011.7" y2="972" stroke-width="2.1"/>
<line x1="192.1" y1="32.8" x2="2011.7" y2="32.8" stroke-width="2.0"/>
<path d="M223,972v-19.8 M223,32.8v19.8 M369.72,972v-19.8 M369.72,32.8v19.8 M516.44,972v-19.8 M516.44,32.8v19.8 M663.16,972v-19.8 M663.16,32.8v19.8 M809.88,972v-19.8 M809.88,32.8v19.8 M956.6,972v-19.8 M956.6,32.8v19.8 M1103.32,972v-19.8 M1103.32,32.8v19.8 M1250.04,972v-19.8 M1250.04,32.8v19.8 M1396.76,972v-19.8 M1396.76,32.8v19.8 M1543.48,972v-19.8 M1543.48,32.8v19.8 M1690.2,972v-19.8 M1690.2,32.8v19.8 M1836.92,972v-19.8 M1836.92,32.8v19.8 M1983.64,972v-19.8 M1983.64,32.8v19.8 M193.6,131.4h19.8 M2011.7,131.4h-19.8 M193.6,296.08h19.8 M2011.7,296.08h-19.8 M193.6,460.76h19.8 M2011.7,460.76h-19.8 M193.6,625.44h19.8 M2011.7,625.44h-19.8 M193.6,790.12h19.8 M2011.7,790.12h-19.8 M193.6,954.8h19.8 M2011.7,954.8h-19.8" stroke-width="2.6"/>
</g>
<g font-family="'Liberation Sans', sans-serif" font-size="50.2" fill="#1f1f1f" stroke="#1f1f1f" stroke-width="0.4">
<text transform="translate(223,1019.4) scale(0.99,1)" text-anchor="middle" dominant-baseline="central">1</text>
<text transform="translate(369.72,1019.4) scale(0.99,1)" text-anchor="middle" dominant-baseline="central">2</text>
<text transform="translate(516.44,1019.4) scale(0.99,1)" text-anchor="middle" dominant-baseline="central">3</text>
<text transform="translate(663.16,1019.4) scale(0.99,1)" text-anchor="middle" dominant-baseline="central">4</text>
<text transform="translate(809.88,1019.4) scale(0.99,1)" text-anchor="middle" dominant-baseline="central">5</text>
<text transform="translate(956.6,1019.4) scale(0.99,1)" text-anchor="middle" dominant-baseline="central">6</text>
<text transform="translate(1103.32,1019.4) scale(0.99,1)" text-anchor="middle" dominant-baseline="central">7</text>
<text transform="translate(1250.04,1019.4) scale(0.99,1)" text-anchor="middle" dominant-baseline="central">8</text>
<text transform="translate(1396.76,1019.4) scale(0.99,1)" text-anchor="middle" dominant-baseline="central">9</text>
<text transform="translate(1543.48,1019.4) scale(0.99,1)" text-anchor="middle" dominant-baseline="central">10</text>
<text transform="translate(1690.2,1019.4) scale(0.99,1)" text-anchor="middle" dominant-baseline="central">11</text>
<text transform="translate(1836.92,1019.4) scale(0.99,1)" text-anchor="middle" dominant-baseline="central">12</text>
<text transform="translate(1983.64,1019.4) scale(0.99,1)" text-anchor="middle" dominant-baseline="central">13</text>
<text transform="translate(179.3,133.2) scale(0.99,1)" text-anchor="end" dominant-baseline="central">40</text>
<text transform="translate(179.3,297.88) scale(0.99,1)" text-anchor="end" dominant-baseline="central">60</text>
<text transform="translate(179.3,462.56) scale(0.99,1)" text-anchor="end" dominant-baseline="central">80</text>
<text transform="translate(179.3,627.24) scale(0.99,1)" text-anchor="end" dominant-baseline="central">100</text>
<text transform="translate(179.3,791.92) scale(0.99,1)" text-anchor="end" dominant-baseline="central">120</text>
<text transform="translate(179.3,956.6) scale(0.99,1)" text-anchor="end" dominant-baseline="central">140</text>
<text transform="translate(1103.65,1083.8) scale(0.99,1)" text-anchor="middle" dominant-baseline="central">Date</text>
<text transform="translate(59,501.5) rotate(-90) scale(1.012,1)" text-anchor="middle" dominant-baseline="central">Depth(m)</text>
</g>
<rect x="1259" y="52.7" width="734" height="179.1" fill="#fff" stroke="#151515" stroke-width="2.6"/>
<circle cx="1303" cy="85.3" r="3.9" fill="#0000ff"/>
<line x1="1271.8" y1="143.5" x2="1337.5" y2="143.5" stroke="#ff0000" stroke-width="5.6"/>
<line x1="1271.8" y1="200" x2="1337.5" y2="200" stroke="#ff0000" stroke-width="5.4" stroke-dasharray="12.7 12.3"/>
<g font-family="'Liberation Sans', sans-serif" font-size="43.9" fill="#000" stroke="#000" stroke-width="0.35">
<text transform="translate(1340.1,86.5) scale(1.0405,1)" dominant-baseline="central">Water levels of line 1</text>
<text transform="translate(1340.1,144.7) scale(1.0405,1)" dominant-baseline="central">Fitting result of water levels</text>
<text transform="translate(1340.1,201.2) scale(1.0405,1)" dominant-baseline="central">Prediction bounds of water level</text>
</g>
</g>
<g id="plot2">
<clipPath id="clip2"><rect x="193.6" y="1447.8" width="1818.1" height="939.1"/></clipPath>
<g clip-path="url(#clip2)">
<g fill="#0000ff"><circle cx="223" cy="1577.5" r="3.9"/><circle cx="223" cy="1583.1" r="3.9"/><circle cx="223" cy="1588.2" r="3.9"/><circle cx="223" cy="1659" r="3.9"/><circle cx="223" cy="1662.6" r="3.9"/><circle cx="223" cy="1685" r="3.9"/><circle cx="223" cy="1705.9" r="3.9"/><circle cx="223" cy="1710.5" r="3.9"/><circle cx="223" cy="1715.6" r="3.9"/><circle cx="223" cy="1720.7" r="3.9"/><circle cx="223" cy="1725.8" r="3.9"/><circle cx="223" cy="1742.4" r="3.9"/><circle cx="223" cy="1767.8" r="3.9"/><circle cx="223" cy="1772.9" r="3.9"/><circle cx="223" cy="1781.8" r="3.9"/><circle cx="223" cy="1796.6" r="3.9"/><circle cx="223" cy="1800.3" r="3.9"/><circle cx="223" cy="1804.1" r="3.9"/><circle cx="223" cy="1807.8" r="3.9"/><circle cx="223" cy="1811.6" r="3.9"/><circle cx="223" cy="1815.3" r="3.9"/><circle cx="223" cy="1819.1" r="3.9"/><circle cx="223" cy="1822.8" r="3.9"/><circle cx="223" cy="1826.6" r="3.9"/><circle cx="223" cy="1830.3" r="3.9"/><circle cx="223" cy="1839.9" r="3.9"/><circle cx="223" cy="1845.5" r="3.9"/><circle cx="223" cy="1851.4" r="3.9"/><circle cx="223" cy="1987.7" r="3.9"/><circle cx="369.72" cy="1603" r="3.9"/><circle cx="369.72" cy="1680.7" r="3.9"/><circle cx="369.72" cy="1765.8" r="3.9"/><circle cx="369.72" cy="1797.9" r="3.9"/><circle cx="369.72" cy="1801.6" r="3.9"/><circle cx="369.72" cy="1805.3" r="3.9"/><circle cx="369.72" cy="1809" r="3.9"/><circle cx="369.72" cy="1812.7" r="3.9"/><circle cx="369.72" cy="1816.4" r="3.9"/><circle cx="369.72" cy="1820.1" r="3.9"/><circle cx="369.72" cy="1838.7" r="3.9"/><circle cx="369.72" cy="1842.3" r="3.9"/><circle cx="369.72" cy="1845.9" r="3.9"/><circle cx="369.72" cy="1849.6" r="3.9"/><circle cx="369.72" cy="1853.2" r="3.9"/><circle cx="369.72" cy="1856.8" r="3.9"/><circle cx="369.72" cy="1860.4" r="3.9"/><circle cx="369.72" cy="1864.1" r="3.9"/><circle cx="369.72" cy="1867.7" r="3.9"/><circle cx="369.72" cy="1871.3" r="3.9"/><circle cx="369.72" cy="1874.9" r="3.9"/><circle cx="369.72" cy="1878.5" r="3.9"/><circle cx="369.72" cy="1882.2" r="3.9"/><circle cx="369.72" cy="1885.8" r="3.9"/><circle cx="369.72" cy="1889.4" r="3.9"/><circle cx="369.72" cy="1906.2" r="3.9"/><circle cx="369.72" cy="1909.5" r="3.9"/><circle cx="369.72" cy="1912.7" r="3.9"/><circle cx="369.72" cy="1916" r="3.9"/><circle cx="369.72" cy="1919.2" r="3.9"/><circle cx="369.72" cy="1922.5" r="3.9"/><circle cx="369.72" cy="1951.3" r="3.9"/><circle cx="516.44" cy="1819.7" r="3.9"/><circle cx="516.44" cy="1838.9" r="3.9"/><circle cx="516.44" cy="1850.3" r="3.9"/><circle cx="516.44" cy="1861.8" r="3.9"/><circle cx="516.44" cy="1868.2" r="3.9"/><circle cx="516.44" cy="1874.5" r="3.9"/><circle cx="516.44" cy="1886" r="3.9"/><circle cx="516.44" cy="1893.6" r="3.9"/><circle cx="516.44" cy="1898.7" r="3.9"/><circle cx="516.44" cy="1904.3" r="3.9"/><circle cx="516.44" cy="1933.1" r="3.9"/><circle cx="516.44" cy="1936.9" r="3.9"/><circle cx="516.44" cy="1968" r="3.9"/><circle cx="516.44" cy="1975.9" r="3.9"/><circle cx="516.44" cy="1979.6" r="3.9"/><circle cx="516.44" cy="1983.4" r="3.9"/><circle cx="516.44" cy="1987.1" r="3.9"/><circle cx="516.44" cy="1990.9" r="3.9"/><circle cx="516.44" cy="1994.6" r="3.9"/><circle cx="516.44" cy="1998.4" r="3.9"/><circle cx="516.44" cy="2002.1" r="3.9"/><circle cx="516.44" cy="2005.9" r="3.9"/><circle cx="516.44" cy="2009.6" r="3.9"/><circle cx="516.44" cy="2035" r="3.9"/><circle cx="516.44" cy="2061.8" r="3.9"/><circle cx="516.44" cy="2069.4" r="3.9"/><circle cx="516.44" cy="2080.1" r="3.9"/><circle cx="516.44" cy="2090.6" r="3.9"/><circle cx="516.44" cy="2100.8" r="3.9"/><circle cx="516.44" cy="2110.2" r="3.9"/><circle cx="663.16" cy="1789.9" r="3.9"/><circle cx="663.16" cy="1795.5" r="3.9"/><circle cx="663.16" cy="1806.5" r="3.9"/><circle cx="663.16" cy="1812.1" r="3.9"/><circle cx="663.16" cy="1818.5" r="3.9"/><circle cx="663.16" cy="1829.4" r="3.9"/><circle cx="663.16" cy="1840.6" r="3.9"/><circle cx="663.16" cy="1850.3" r="3.9"/><circle cx="663.16" cy="1853.8" r="3.9"/><circle cx="663.16" cy="1857.2" r="3.9"/><circle cx="663.16" cy="1860.7" r="3.9"/><circle cx="663.16" cy="1864.1" r="3.9"/><circle cx="663.16" cy="1867.6" r="3.9"/><circle cx="663.16" cy="1871" r="3.9"/><circle cx="663.16" cy="1874.5" r="3.9"/><circle cx="663.16" cy="1883.4" r="3.9"/><circle cx="663.16" cy="1887" r="3.9"/><circle cx="663.16" cy="1890.7" r="3.9"/><circle cx="663.16" cy="1894.3" r="3.9"/><circle cx="663.16" cy="1897.9" r="3.9"/><circle cx="663.16" cy="1901.6" r="3.9"/><circle cx="663.16" cy="1905.2" r="3.9"/><circle cx="663.16" cy="1908.8" r="3.9"/><circle cx="663.16" cy="1912.4" r="3.9"/><circle cx="663.16" cy="1916.1" r="3.9"/><circle cx="663.16" cy="1919.7" r="3.9"/><circle cx="663.16" cy="1923.3" r="3.9"/><circle cx="663.16" cy="1927" r="3.9"/><circle cx="663.16" cy="1930.6" r="3.9"/><circle cx="663.16" cy="1944.6" r="3.9"/><circle cx="663.16" cy="1952.2" r="3.9"/><circle cx="663.16" cy="1977.7" r="3.9"/><circle cx="663.16" cy="2003.2" r="3.9"/><circle cx="663.16" cy="2035.8" r="3.9"/><circle cx="809.88" cy="1561.1" r="3.9"/><circle cx="809.88" cy="1573.4" r="3.9"/><circle cx="809.88" cy="1705.1" r="3.9"/><circle cx="809.88" cy="1715.3" r="3.9"/><circle cx="809.88" cy="1722.2" r="3.9"/><circle cx="809.88" cy="1728.5" r="3.9"/><circle cx="809.88" cy="1736.2" r="3.9"/><circle cx="809.88" cy="1742.5" r="3.9"/><circle cx="809.88" cy="1747.6" r="3.9"/><circle cx="809.88" cy="1763.4" r="3.9"/><circle cx="809.88" cy="1771.8" r="3.9"/><circle cx="809.88" cy="1775.1" r="3.9"/><circle cx="809.88" cy="1778.4" r="3.9"/><circle cx="809.88" cy="1781.8" r="3.9"/><circle cx="809.88" cy="1785.1" r="3.9"/><circle cx="809.88" cy="1788.4" r="3.9"/><circle cx="809.88" cy="1801.1" r="3.9"/><circle cx="809.88" cy="1806.2" r="3.9"/><circle cx="809.88" cy="1810.1" r="3.9"/><circle cx="809.88" cy="1822.3" r="3.9"/><circle cx="809.88" cy="1833.8" r="3.9"/><circle cx="809.88" cy="1838.1" r="3.9"/><circle cx="809.88" cy="1842.4" r="3.9"/><circle cx="809.88" cy="1852.1" r="3.9"/><circle cx="809.88" cy="1883.9" r="3.9"/><circle cx="809.88" cy="1888.5" r="3.9"/><circle cx="956.6" cy="1763.7" r="3.9"/><circle cx="956.6" cy="1775.7" r="3.9"/><circle cx="956.6" cy="1780.8" r="3.9"/><circle cx="956.6" cy="1785.9" r="3.9"/><circle cx="956.6" cy="1794.3" r="3.9"/><circle cx="956.6" cy="1822" r="3.9"/><circle cx="956.6" cy="1834.3" r="3.9"/><circle cx="956.6" cy="1845.7" r="3.9"/><circle cx="956.6" cy="1849.5" r="3.9"/><circle cx="956.6" cy="1853.4" r="3.9"/><circle cx="956.6" cy="1857.2" r="3.9"/><circle cx="956.6" cy="1861" r="3.9"/><circle cx="956.6" cy="1864.9" r="3.9"/><circle cx="956.6" cy="1868.7" r="3.9"/><circle cx="956.6" cy="1880.1" r="3.9"/><circle cx="956.6" cy="1883.5" r="3.9"/><circle cx="956.6" cy="1886.9" r="3.9"/><circle cx="956.6" cy="1890.3" r="3.9"/><circle cx="956.6" cy="1893.7" r="3.9"/><circle cx="956.6" cy="1897.1" r="3.9"/><circle cx="956.6" cy="1900.5" r="3.9"/><circle cx="956.6" cy="1918.9" r="3.9"/><circle cx="956.6" cy="1926" r="3.9"/><circle cx="956.6" cy="1932.4" r="3.9"/><circle cx="956.6" cy="1948.2" r="3.9"/><circle cx="956.6" cy="1970.1" r="3.9"/><circle cx="956.6" cy="1978.7" r="3.9"/><circle cx="956.6" cy="1996.8" r="3.9"/><circle cx="1103.32" cy="1642.2" r="3.9"/><circle cx="1103.32" cy="1685.5" r="3.9"/><circle cx="1103.32" cy="1695.7" r="3.9"/><circle cx="1103.32" cy="1738" r="3.9"/><circle cx="1103.32" cy="1743.6" r="3.9"/><circle cx="1103.32" cy="1749.9" r="3.9"/><circle cx="1103.32" cy="1758.9" r="3.9"/><circle cx="1103.32" cy="1765.2" r="3.9"/><circle cx="1103.32" cy="1778" r="3.9"/><circle cx="1103.32" cy="1799.1" r="3.9"/><circle cx="1103.32" cy="1804.7" r="3.9"/><circle cx="1103.32" cy="1811.1" r="3.9"/><circle cx="1103.32" cy="1817.5" r="3.9"/><circle cx="1103.32" cy="1829.4" r="3.9"/><circle cx="1103.32" cy="1833.5" r="3.9"/><circle cx="1103.32" cy="1842.2" r="3.9"/><circle cx="1103.32" cy="1865.4" r="3.9"/><circle cx="1103.32" cy="1869.2" r="3.9"/><circle cx="1103.32" cy="1894.4" r="3.9"/><circle cx="1103.32" cy="1907.1" r="3.9"/><circle cx="1103.32" cy="1922.4" r="3.9"/><circle cx="1250.04" cy="1767" r="3.9"/><circle cx="1250.04" cy="1804.5" r="3.9"/><circle cx="1250.04" cy="1834" r="3.9"/><circle cx="1250.04" cy="1840.4" r="3.9"/><circle cx="1250.04" cy="1851.3" r="3.9"/><circle cx="1250.04" cy="1856.9" r="3.9"/><circle cx="1250.04" cy="1863.3" r="3.9"/><circle cx="1250.04" cy="1880.4" r="3.9"/><circle cx="1250.04" cy="1903.3" r="3.9"/><circle cx="1250.04" cy="1907.1" r="3.9"/><circle cx="1250.04" cy="1918.1" r="3.9"/><circle cx="1250.04" cy="1951.2" r="3.9"/><circle cx="1250.04" cy="1967" r="3.9"/><circle cx="1250.04" cy="1975.9" r="3.9"/><circle cx="1250.04" cy="2004.2" r="3.9"/><circle cx="1250.04" cy="2016.2" r="3.9"/><circle cx="1250.04" cy="2027.1" r="3.9"/><circle cx="1250.04" cy="2032.7" r="3.9"/><circle cx="1250.04" cy="2047.3" r="3.9"/><circle cx="1250.04" cy="2053.9" r="3.9"/><circle cx="1250.04" cy="2087.5" r="3.9"/><circle cx="1250.04" cy="2091.3" r="3.9"/><circle cx="1250.04" cy="2102.8" r="3.9"/><circle cx="1250.04" cy="2112.2" r="3.9"/><circle cx="1250.04" cy="2153.8" r="3.9"/><circle cx="1250.04" cy="2171.6" r="3.9"/><circle cx="1396.76" cy="1764.6" r="3.9"/><circle cx="1396.76" cy="1783" r="3.9"/><circle cx="1396.76" cy="1807.2" r="3.9"/><circle cx="1396.76" cy="1818.9" r="3.9"/><circle cx="1396.76" cy="1823.8" r="3.9"/><circle cx="1396.76" cy="1833.4" r="3.9"/><circle cx="1396.76" cy="1839.8" r="3.9"/><circle cx="1396.76" cy="1845.7" r="3.9"/><circle cx="1396.76" cy="1855.9" r="3.9"/><circle cx="1396.76" cy="1862.7" r="3.9"/><circle cx="1396.76" cy="1873.7" r="3.9"/><circle cx="1396.76" cy="1880.1" r="3.9"/><circle cx="1396.76" cy="1897.9" r="3.9"/><circle cx="1396.76" cy="1917" r="3.9"/><circle cx="1396.76" cy="1921.3" r="3.9"/><circle cx="1396.76" cy="1932.3" r="3.9"/><circle cx="1396.76" cy="1941.2" r="3.9"/><circle cx="1396.76" cy="1946.8" r="3.9"/><circle cx="1396.76" cy="1954" r="3.9"/><circle cx="1396.76" cy="1982" r="3.9"/><circle cx="1396.76" cy="2022.7" r="3.9"/><circle cx="1396.76" cy="2039.8" r="3.9"/><circle cx="1396.76" cy="2049.2" r="3.9"/><circle cx="1396.76" cy="2148.9" r="3.9"/><circle cx="1543.48" cy="1682.1" r="3.9"/><circle cx="1543.48" cy="1694.3" r="3.9"/><circle cx="1543.48" cy="1704.5" r="3.9"/><circle cx="1543.48" cy="1765.2" r="3.9"/><circle cx="1543.48" cy="1776.1" r="3.9"/><circle cx="1543.48" cy="1781.2" r="3.9"/><circle cx="1543.48" cy="1788.9" r="3.9"/><circle cx="1543.48" cy="1795.2" r="3.9"/><circle cx="1543.48" cy="1813.6" r="3.9"/><circle cx="1543.48" cy="1825" r="3.9"/><circle cx="1543.48" cy="1829.6" r="3.9"/><circle cx="1543.48" cy="1834.2" r="3.9"/><circle cx="1543.48" cy="1844.9" r="3.9"/><circle cx="1543.48" cy="1855.1" r="3.9"/><circle cx="1543.48" cy="1861.5" r="3.9"/><circle cx="1543.48" cy="1874.7" r="3.9"/><circle cx="1543.48" cy="1879.3" r="3.9"/><circle cx="1543.48" cy="1883.9" r="3.9"/><circle cx="1543.48" cy="1897.6" r="3.9"/><circle cx="1543.48" cy="1955.2" r="3.9"/><circle cx="1836.92" cy="1743.3" r="3.9"/><circle cx="1836.92" cy="1769.8" r="3.9"/><circle cx="1836.92" cy="1800.9" r="3.9"/><circle cx="1836.92" cy="1815.4" r="3.9"/><circle cx="1836.92" cy="1824.3" r="3.9"/><circle cx="1836.92" cy="1842.9" r="3.9"/><circle cx="1836.92" cy="1849.8" r="3.9"/><circle cx="1836.92" cy="1856.2" r="3.9"/><circle cx="1836.92" cy="1862.5" r="3.9"/><circle cx="1836.92" cy="1878.6" r="3.9"/><circle cx="1836.92" cy="1882.4" r="3.9"/><circle cx="1836.92" cy="1886.1" r="3.9"/><circle cx="1836.92" cy="1889.9" r="3.9"/><circle cx="1836.92" cy="1893.6" r="3.9"/><circle cx="1836.92" cy="1897.4" r="3.9"/><circle cx="1836.92" cy="1901.1" r="3.9"/><circle cx="1836.92" cy="1904.9" r="3.9"/><circle cx="1836.92" cy="1908.6" r="3.9"/><circle cx="1836.92" cy="1912.4" r="3.9"/><circle cx="1836.92" cy="1916.1" r="3.9"/><circle cx="1836.92" cy="1919.9" r="3.9"/><circle cx="1836.92" cy="1932.1" r="3.9"/><circle cx="1836.92" cy="1947.9" r="3.9"/><circle cx="1836.92" cy="1958.9" r="3.9"/><circle cx="1836.92" cy="1981" r="3.9"/><circle cx="1836.92" cy="1989.9" r="3.9"/><circle cx="1836.92" cy="2070.7" r="3.9"/><circle cx="1983.64" cy="1688" r="3.9"/><circle cx="1983.64" cy="1703.3" r="3.9"/><circle cx="1983.64" cy="1746.6" r="3.9"/><circle cx="1983.64" cy="1758.1" r="3.9"/><circle cx="1983.64" cy="1764.5" r="3.9"/><circle cx="1983.64" cy="1770.8" r="3.9"/><circle cx="1983.64" cy="1776.4" r="3.9"/><circle cx="1983.64" cy="1792" r="3.9"/><circle cx="1983.64" cy="1795.3" r="3.9"/><circle cx="1983.64" cy="1798.6" r="3.9"/><circle cx="1983.64" cy="1801.9" r="3.9"/><circle cx="1983.64" cy="1805.2" r="3.9"/><circle cx="1983.64" cy="1808.5" r="3.9"/><circle cx="1983.64" cy="1815" r="3.9"/><circle cx="1983.64" cy="1819" r="3.9"/><circle cx="1983.64" cy="1823" r="3.9"/><circle cx="1983.64" cy="1828" r="3.9"/><circle cx="1983.64" cy="1831.9" r="3.9"/><circle cx="1983.64" cy="1835.8" r="3.9"/><circle cx="1983.64" cy="1852.9" r="3.9"/><circle cx="1983.64" cy="1859.2" r="3.9"/><circle cx="1983.64" cy="1868.9" r="3.9"/><circle cx="1983.64" cy="1875.3" r="3.9"/><circle cx="1983.64" cy="1881.7" r="3.9"/><circle cx="1983.64" cy="1907.1" r="3.9"/><circle cx="1983.64" cy="1913.5" r="3.9"/><circle cx="1983.64" cy="1918.6" r="3.9"/><circle cx="1983.64" cy="1929.6" r="3.9"/></g>
<path d="M223,1600.75 C223.98,1602.76 226.91,1609.11 228.87,1612.83 C230.83,1616.55 232.79,1619.92 234.74,1623.06 C236.69,1626.2 238.64,1628.95 240.6,1631.67 C242.56,1634.39 244.51,1636.95 246.47,1639.39 C248.43,1641.83 250.38,1644.11 252.34,1646.32 C254.3,1648.53 256.25,1650.61 258.21,1652.66 C260.17,1654.71 262.12,1656.74 264.08,1658.62 C266.03,1660.5 267.99,1662.24 269.94,1663.96 C271.89,1665.68 273.85,1667.3 275.81,1668.95 C277.77,1670.6 279.72,1672.27 281.68,1673.85 C283.64,1675.43 285.59,1677 287.55,1678.45 C289.51,1679.9 291.47,1681.25 293.42,1682.58 C295.38,1683.9 297.32,1685.18 299.28,1686.4 C301.23,1687.62 303.19,1688.81 305.15,1689.93 C307.11,1691.05 309.06,1692.12 311.02,1693.14 C312.98,1694.16 314.93,1695.13 316.89,1696.07 C318.85,1697 320.81,1697.89 322.76,1698.75 C324.71,1699.61 326.67,1700.43 328.62,1701.21 C330.57,1701.99 332.53,1702.73 334.49,1703.44 C336.45,1704.15 338.4,1704.83 340.36,1705.49 C342.32,1706.15 344.27,1706.78 346.23,1707.38 C348.19,1707.98 350.15,1708.54 352.1,1709.09 C354.06,1709.63 356,1710.15 357.96,1710.65 C359.91,1711.15 361.87,1711.63 363.83,1712.09 C365.79,1712.55 367.74,1712.99 369.7,1713.4 C371.66,1713.81 373.61,1714.19 375.57,1714.55 C377.53,1714.91 379.49,1715.22 381.44,1715.54 C383.39,1715.86 385.35,1716.16 387.3,1716.45 C389.25,1716.74 391.21,1717.03 393.17,1717.3 C395.13,1717.57 397.08,1717.83 399.04,1718.08 C401,1718.33 402.95,1718.57 404.91,1718.8 C406.87,1719.03 408.82,1719.26 410.78,1719.47 C412.73,1719.68 414.69,1719.88 416.64,1720.08 C418.59,1720.27 420.55,1720.46 422.51,1720.64 C424.47,1720.82 426.42,1720.99 428.38,1721.15 C430.34,1721.31 432.29,1721.47 434.25,1721.62 C436.21,1721.77 438.17,1721.91 440.12,1722.04 C442.07,1722.17 444.03,1722.3 445.98,1722.42 C447.94,1722.54 449.89,1722.66 451.85,1722.77 C453.81,1722.88 455.76,1722.99 457.72,1723.1 C459.68,1723.2 461.63,1723.3 463.59,1723.4 C465.55,1723.5 467.5,1723.59 469.46,1723.68 C471.41,1723.77 473.37,1723.85 475.32,1723.93 C477.27,1724.01 479.23,1724.09 481.19,1724.17 C483.15,1724.25 485.1,1724.32 487.06,1724.39 C489.02,1724.46 490.97,1724.52 492.93,1724.59 C494.89,1724.65 496.85,1724.72 498.8,1724.78 C500.75,1724.84 502.71,1724.9 504.66,1724.95 C506.62,1725 508.57,1725.05 510.53,1725.1 C512.49,1725.15 512.37,1725.16 516.4,1725.24 C520.43,1725.32 528.63,1725.5 534.74,1725.6 C540.85,1725.7 546.97,1725.78 553.08,1725.85 C559.19,1725.92 565.3,1725.97 571.41,1726.01 C577.52,1726.05 583.64,1726.07 589.75,1726.08 C595.86,1726.09 601.98,1726.09 608.09,1726.08 C614.2,1726.07 620.31,1726.05 626.42,1726.02 C632.53,1725.99 638.65,1725.95 644.76,1725.9 C650.87,1725.85 656.99,1725.8 663.1,1725.74 C669.21,1725.68 675.33,1725.61 681.44,1725.53 C687.55,1725.45 693.66,1725.38 699.77,1725.29 C705.88,1725.2 712,1725.11 718.11,1725.01 C724.22,1724.91 730.34,1724.81 736.45,1724.7 C742.56,1724.59 748.68,1724.48 754.79,1724.37 C760.9,1724.25 767.01,1724.13 773.12,1724.01 C779.23,1723.89 785.35,1723.76 791.46,1723.63 C797.57,1723.5 803.69,1723.37 809.8,1723.23 C815.91,1723.1 822.03,1722.96 828.14,1722.82 C834.25,1722.68 840.36,1722.54 846.47,1722.39 C852.58,1722.25 858.7,1722.1 864.81,1721.95 C870.92,1721.8 877.04,1721.66 883.15,1721.51 C889.26,1721.36 895.38,1721.2 901.49,1721.05 C907.6,1720.9 913.71,1720.75 919.82,1720.6 C925.93,1720.45 932.05,1720.29 938.16,1720.14 C944.27,1719.99 950.39,1719.83 956.5,1719.68 C962.61,1719.53 968.73,1719.37 974.84,1719.22 C980.95,1719.07 987.06,1718.91 993.17,1718.76 C999.28,1718.61 1005.4,1718.46 1011.51,1718.31 C1017.62,1718.16 1023.74,1718.01 1029.85,1717.86 C1035.96,1717.71 1042.08,1717.57 1048.19,1717.42 C1054.3,1717.28 1060.42,1717.13 1066.53,1716.99 C1072.64,1716.85 1078.75,1716.72 1084.86,1716.58 C1090.97,1716.44 1097.09,1716.3 1103.2,1716.17 C1109.31,1716.04 1115.43,1715.91 1121.54,1715.78 C1127.65,1715.65 1133.77,1715.53 1139.88,1715.41 C1145.99,1715.29 1152.1,1715.17 1158.21,1715.05 C1164.32,1714.93 1170.44,1714.81 1176.55,1714.7 C1182.66,1714.59 1188.78,1714.48 1194.89,1714.37 C1201,1714.26 1207.11,1714.16 1213.22,1714.06 C1219.33,1713.96 1225.45,1713.86 1231.56,1713.76 C1237.67,1713.66 1243.79,1713.57 1249.9,1713.48 C1256.01,1713.39 1262.13,1713.3 1268.24,1713.21 C1274.35,1713.12 1280.46,1713.05 1286.57,1712.97 C1292.68,1712.89 1298.8,1712.82 1304.91,1712.74 C1311.02,1712.66 1317.14,1712.59 1323.25,1712.52 C1329.36,1712.45 1335.48,1712.38 1341.59,1712.32 C1347.7,1712.26 1353.81,1712.2 1359.92,1712.14 C1366.03,1712.08 1372.15,1712.03 1378.26,1711.98 C1384.37,1711.93 1390.49,1711.88 1396.6,1711.84 C1402.71,1711.79 1408.83,1711.75 1414.94,1711.71 C1421.05,1711.67 1427.16,1711.63 1433.27,1711.6 C1439.38,1711.57 1445.5,1711.54 1451.61,1711.51 C1457.72,1711.48 1463.84,1711.46 1469.95,1711.44 C1476.06,1711.42 1482.18,1711.41 1488.29,1711.39 C1494.4,1711.38 1500.51,1711.36 1506.62,1711.35 C1512.73,1711.34 1518.85,1711.34 1524.96,1711.34 C1531.07,1711.34 1537.19,1711.34 1543.3,1711.34 C1549.41,1711.34 1555.53,1711.35 1561.64,1711.36 C1567.75,1711.37 1573.86,1711.39 1579.97,1711.41 C1586.08,1711.43 1592.2,1711.45 1598.31,1711.47 C1604.42,1711.49 1610.54,1711.52 1616.65,1711.55 C1622.76,1711.58 1628.88,1711.61 1634.99,1711.65 C1641.1,1711.69 1647.21,1711.73 1653.32,1711.77 C1659.43,1711.81 1665.55,1711.86 1671.66,1711.91 C1677.77,1711.96 1683.89,1712.02 1690,1712.08 C1696.11,1712.14 1702.23,1712.2 1708.34,1712.26 C1714.45,1712.32 1720.56,1712.39 1726.67,1712.46 C1732.78,1712.53 1738.9,1712.61 1745.01,1712.69 C1751.12,1712.77 1757.24,1712.85 1763.35,1712.93 C1769.46,1713.02 1775.58,1713.11 1781.69,1713.2 C1787.8,1713.29 1793.91,1713.39 1800.02,1713.49 C1806.13,1713.59 1812.25,1713.68 1818.36,1713.79 C1824.47,1713.9 1830.59,1714.02 1836.7,1714.13 C1842.81,1714.25 1848.93,1714.36 1855.04,1714.48 C1861.15,1714.6 1867.26,1714.72 1873.37,1714.85 C1879.48,1714.98 1885.6,1715.11 1891.71,1715.25 C1897.82,1715.39 1903.94,1715.53 1910.05,1715.67 C1916.16,1715.81 1922.28,1715.96 1928.39,1716.11 C1934.5,1716.26 1940.61,1716.41 1946.72,1716.57 C1952.83,1716.73 1958.95,1716.89 1965.06,1717.06 C1971.17,1717.23 1980.34,1717.48 1983.4,1717.57" fill="none" stroke="#ff0000" stroke-width="5.0" stroke-dasharray="14 11" stroke-dashoffset="0"/>
<path d="M223,1886.75 C223.98,1889.45 226.91,1897.93 228.87,1902.98 C230.83,1908.03 232.79,1912.65 234.74,1917.06 C236.69,1921.47 238.64,1925.63 240.6,1929.44 C242.56,1933.25 244.51,1936.7 246.47,1939.94 C248.43,1943.18 250.38,1946.14 252.34,1948.91 C254.3,1951.68 256.25,1954.21 258.21,1956.53 C260.17,1958.85 262.12,1960.87 264.08,1962.84 C266.03,1964.81 267.99,1966.66 269.94,1968.35 C271.89,1970.04 273.85,1971.61 275.81,1973 C277.77,1974.39 279.72,1975.57 281.68,1976.69 C283.64,1977.82 285.59,1978.78 287.55,1979.75 C289.51,1980.72 291.47,1981.66 293.42,1982.51 C295.38,1983.36 297.32,1984.13 299.28,1984.87 C301.23,1985.61 303.19,1986.28 305.15,1986.92 C307.11,1987.57 309.06,1988.16 311.02,1988.74 C312.98,1989.32 314.93,1989.87 316.89,1990.39 C318.85,1990.91 320.81,1991.39 322.76,1991.86 C324.71,1992.32 326.67,1992.76 328.62,1993.18 C330.57,1993.6 332.53,1994.01 334.49,1994.4 C336.45,1994.79 338.4,1995.15 340.36,1995.5 C342.32,1995.85 344.27,1996.18 346.23,1996.5 C348.19,1996.82 350.15,1997.14 352.1,1997.44 C354.06,1997.74 356,1998.03 357.96,1998.31 C359.91,1998.59 361.87,1998.85 363.83,1999.11 C365.79,1999.37 367.74,1999.61 369.7,1999.86 C371.66,2000.11 373.61,2000.36 375.57,2000.61 C377.53,2000.86 379.49,2001.12 381.44,2001.37 C383.39,2001.61 385.35,2001.85 387.3,2002.08 C389.25,2002.31 391.21,2002.53 393.17,2002.74 C395.13,2002.95 397.08,2003.14 399.04,2003.34 C401,2003.53 402.95,2003.73 404.91,2003.91 C406.87,2004.09 408.82,2004.26 410.78,2004.43 C412.73,2004.6 414.69,2004.77 416.64,2004.93 C418.59,2005.09 420.55,2005.24 422.51,2005.39 C424.47,2005.54 426.42,2005.69 428.38,2005.83 C430.34,2005.97 432.29,2006.12 434.25,2006.25 C436.21,2006.38 438.17,2006.51 440.12,2006.64 C442.07,2006.77 444.03,2006.9 445.98,2007.02 C447.94,2007.14 449.89,2007.26 451.85,2007.37 C453.81,2007.48 455.76,2007.6 457.72,2007.7 C459.68,2007.81 461.63,2007.9 463.59,2008 C465.55,2008.1 467.5,2008.19 469.46,2008.28 C471.41,2008.37 473.37,2008.45 475.32,2008.53 C477.27,2008.61 479.23,2008.69 481.19,2008.77 C483.15,2008.85 485.1,2008.92 487.06,2008.99 C489.02,2009.06 490.97,2009.12 492.93,2009.19 C494.89,2009.26 496.85,2009.32 498.8,2009.38 C500.75,2009.44 502.71,2009.5 504.66,2009.55 C506.62,2009.6 508.57,2009.65 510.53,2009.7 C512.49,2009.75 512.37,2009.76 516.4,2009.84 C520.43,2009.92 528.63,2010.1 534.74,2010.2 C540.85,2010.3 546.97,2010.38 553.08,2010.45 C559.19,2010.52 565.3,2010.57 571.41,2010.61 C577.52,2010.65 583.64,2010.67 589.75,2010.68 C595.86,2010.69 601.98,2010.69 608.09,2010.68 C614.2,2010.67 620.31,2010.65 626.42,2010.62 C632.53,2010.59 638.65,2010.55 644.76,2010.5 C650.87,2010.45 656.99,2010.4 663.1,2010.34 C669.21,2010.28 675.33,2010.21 681.44,2010.13 C687.55,2010.06 693.66,2009.98 699.77,2009.89 C705.88,2009.8 712,2009.71 718.11,2009.61 C724.22,2009.51 730.34,2009.41 736.45,2009.3 C742.56,2009.19 748.68,2009.09 754.79,2008.97 C760.9,2008.86 767.01,2008.73 773.12,2008.61 C779.23,2008.49 785.35,2008.36 791.46,2008.23 C797.57,2008.1 803.69,2007.96 809.8,2007.83 C815.91,2007.69 822.03,2007.56 828.14,2007.42 C834.25,2007.28 840.36,2007.13 846.47,2006.99 C852.58,2006.85 858.7,2006.7 864.81,2006.55 C870.92,2006.4 877.04,2006.26 883.15,2006.11 C889.26,2005.96 895.38,2005.8 901.49,2005.65 C907.6,2005.5 913.71,2005.35 919.82,2005.2 C925.93,2005.05 932.05,2004.89 938.16,2004.74 C944.27,2004.59 950.39,2004.43 956.5,2004.28 C962.61,2004.13 968.73,2003.97 974.84,2003.82 C980.95,2003.67 987.06,2003.51 993.17,2003.36 C999.28,2003.21 1005.4,2003.06 1011.51,2002.91 C1017.62,2002.76 1023.74,2002.61 1029.85,2002.46 C1035.96,2002.31 1042.08,2002.16 1048.19,2002.02 C1054.3,2001.88 1060.42,2001.73 1066.53,2001.59 C1072.64,2001.45 1078.75,2001.32 1084.86,2001.18 C1090.97,2001.04 1097.09,2000.9 1103.2,2000.77 C1109.31,2000.64 1115.43,2000.51 1121.54,2000.38 C1127.65,2000.25 1133.77,2000.13 1139.88,2000.01 C1145.99,1999.89 1152.1,1999.77 1158.21,1999.65 C1164.32,1999.53 1170.44,1999.41 1176.55,1999.3 C1182.66,1999.19 1188.78,1999.08 1194.89,1998.97 C1201,1998.86 1207.11,1998.76 1213.22,1998.66 C1219.33,1998.56 1225.45,1998.46 1231.56,1998.36 C1237.67,1998.26 1243.79,1998.17 1249.9,1998.08 C1256.01,1997.99 1262.13,1997.89 1268.24,1997.81 C1274.35,1997.72 1280.46,1997.65 1286.57,1997.57 C1292.68,1997.49 1298.8,1997.41 1304.91,1997.34 C1311.02,1997.26 1317.14,1997.19 1323.25,1997.12 C1329.36,1997.05 1335.48,1996.98 1341.59,1996.92 C1347.7,1996.86 1353.81,1996.8 1359.92,1996.74 C1366.03,1996.68 1372.15,1996.63 1378.26,1996.58 C1384.37,1996.53 1390.49,1996.49 1396.6,1996.44 C1402.71,1996.39 1408.83,1996.35 1414.94,1996.31 C1421.05,1996.27 1427.16,1996.23 1433.27,1996.2 C1439.38,1996.17 1445.5,1996.14 1451.61,1996.11 C1457.72,1996.08 1463.84,1996.06 1469.95,1996.04 C1476.06,1996.02 1482.18,1996.01 1488.29,1995.99 C1494.4,1995.97 1500.51,1995.96 1506.62,1995.95 C1512.73,1995.94 1518.85,1995.94 1524.96,1995.94 C1531.07,1995.94 1537.19,1995.94 1543.3,1995.94 C1549.41,1995.94 1555.53,1995.95 1561.64,1995.96 C1567.75,1995.97 1573.86,1995.99 1579.97,1996.01 C1586.08,1996.03 1592.2,1996.05 1598.31,1996.07 C1604.42,1996.09 1610.54,1996.12 1616.65,1996.15 C1622.76,1996.18 1628.88,1996.21 1634.99,1996.25 C1641.1,1996.29 1647.21,1996.33 1653.32,1996.37 C1659.43,1996.41 1665.55,1996.46 1671.66,1996.51 C1677.77,1996.56 1683.89,1996.62 1690,1996.68 C1696.11,1996.74 1702.23,1996.8 1708.34,1996.86 C1714.45,1996.92 1720.56,1996.99 1726.67,1997.06 C1732.78,1997.13 1738.9,1997.21 1745.01,1997.29 C1751.12,1997.37 1757.24,1997.44 1763.35,1997.53 C1769.46,1997.62 1775.58,1997.71 1781.69,1997.8 C1787.8,1997.89 1793.91,1997.99 1800.02,1998.09 C1806.13,1998.19 1812.25,1998.28 1818.36,1998.39 C1824.47,1998.5 1830.59,1998.62 1836.7,1998.73 C1842.81,1998.85 1848.93,1998.96 1855.04,1999.08 C1861.15,1999.2 1867.26,1999.32 1873.37,1999.45 C1879.48,1999.58 1885.6,1999.71 1891.71,1999.85 C1897.82,1999.99 1903.94,2000.13 1910.05,2000.27 C1916.16,2000.41 1922.28,2000.56 1928.39,2000.71 C1934.5,2000.86 1940.61,2001.01 1946.72,2001.17 C1952.83,2001.33 1958.95,2001.49 1965.06,2001.66 C1971.17,2001.83 1980.34,2002.09 1983.4,2002.17" fill="none" stroke="#ff0000" stroke-width="5.0" stroke-dasharray="14 11" stroke-dashoffset="0"/>
<path d="M223,1743.75 C223.98,1746.11 226.91,1753.52 228.87,1757.9 C230.83,1762.29 232.79,1766.28 234.74,1770.06 C236.69,1773.84 238.64,1777.28 240.6,1780.55 C242.56,1783.82 244.51,1786.83 246.47,1789.67 C248.43,1792.52 250.38,1795.13 252.34,1797.62 C254.3,1800.11 256.25,1802.4 258.21,1804.59 C260.17,1806.77 262.12,1808.8 264.08,1810.73 C266.03,1812.66 267.99,1814.45 269.94,1816.16 C271.89,1817.87 273.85,1819.46 275.81,1820.98 C277.77,1822.5 279.72,1823.92 281.68,1825.27 C283.64,1826.62 285.59,1827.89 287.55,1829.1 C289.51,1830.31 291.47,1831.45 293.42,1832.54 C295.38,1833.63 297.32,1834.65 299.28,1835.63 C301.23,1836.61 303.19,1837.54 305.15,1838.42 C307.11,1839.31 309.06,1840.14 311.02,1840.94 C312.98,1841.74 314.93,1842.5 316.89,1843.23 C318.85,1843.96 320.81,1844.65 322.76,1845.31 C324.71,1845.97 326.67,1846.6 328.62,1847.2 C330.57,1847.8 332.53,1848.37 334.49,1848.92 C336.45,1849.47 338.4,1850 340.36,1850.5 C342.32,1851 344.27,1851.48 346.23,1851.94 C348.19,1852.4 350.15,1852.84 352.1,1853.26 C354.06,1853.68 356,1854.09 357.96,1854.48 C359.91,1854.87 361.87,1855.24 363.83,1855.6 C365.79,1855.96 367.74,1856.3 369.7,1856.63 C371.66,1856.96 373.61,1857.27 375.57,1857.58 C377.53,1857.88 379.49,1858.18 381.44,1858.46 C383.39,1858.74 385.35,1859.01 387.3,1859.27 C389.25,1859.53 391.21,1859.78 393.17,1860.02 C395.13,1860.26 397.08,1860.49 399.04,1860.71 C401,1860.93 402.95,1861.14 404.91,1861.35 C406.87,1861.56 408.82,1861.76 410.78,1861.95 C412.73,1862.14 414.69,1862.32 416.64,1862.5 C418.59,1862.68 420.55,1862.86 422.51,1863.02 C424.47,1863.18 426.42,1863.34 428.38,1863.49 C430.34,1863.64 432.29,1863.79 434.25,1863.93 C436.21,1864.07 438.17,1864.21 440.12,1864.34 C442.07,1864.47 444.03,1864.6 445.98,1864.72 C447.94,1864.84 449.89,1864.96 451.85,1865.07 C453.81,1865.18 455.76,1865.3 457.72,1865.4 C459.68,1865.51 461.63,1865.6 463.59,1865.7 C465.55,1865.8 467.5,1865.89 469.46,1865.98 C471.41,1866.07 473.37,1866.15 475.32,1866.23 C477.27,1866.31 479.23,1866.39 481.19,1866.47 C483.15,1866.55 485.1,1866.62 487.06,1866.69 C489.02,1866.76 490.97,1866.83 492.93,1866.89 C494.89,1866.96 496.85,1867.02 498.8,1867.08 C500.75,1867.14 502.71,1867.2 504.66,1867.25 C506.62,1867.3 508.57,1867.35 510.53,1867.4 C512.49,1867.45 512.37,1867.46 516.4,1867.54 C520.43,1867.62 528.63,1867.8 534.74,1867.9 C540.85,1868 546.97,1868.08 553.08,1868.15 C559.19,1868.22 565.3,1868.27 571.41,1868.31 C577.52,1868.35 583.64,1868.37 589.75,1868.38 C595.86,1868.39 601.98,1868.39 608.09,1868.38 C614.2,1868.37 620.31,1868.35 626.42,1868.32 C632.53,1868.29 638.65,1868.25 644.76,1868.2 C650.87,1868.15 656.99,1868.1 663.1,1868.04 C669.21,1867.98 675.33,1867.9 681.44,1867.83 C687.55,1867.75 693.66,1867.68 699.77,1867.59 C705.88,1867.5 712,1867.41 718.11,1867.31 C724.22,1867.21 730.34,1867.11 736.45,1867 C742.56,1866.89 748.68,1866.79 754.79,1866.67 C760.9,1866.56 767.01,1866.43 773.12,1866.31 C779.23,1866.19 785.35,1866.06 791.46,1865.93 C797.57,1865.8 803.69,1865.66 809.8,1865.53 C815.91,1865.39 822.03,1865.26 828.14,1865.12 C834.25,1864.98 840.36,1864.84 846.47,1864.69 C852.58,1864.55 858.7,1864.4 864.81,1864.25 C870.92,1864.1 877.04,1863.96 883.15,1863.81 C889.26,1863.66 895.38,1863.5 901.49,1863.35 C907.6,1863.2 913.71,1863.05 919.82,1862.9 C925.93,1862.75 932.05,1862.59 938.16,1862.44 C944.27,1862.29 950.39,1862.13 956.5,1861.98 C962.61,1861.83 968.73,1861.67 974.84,1861.52 C980.95,1861.37 987.06,1861.21 993.17,1861.06 C999.28,1860.91 1005.4,1860.76 1011.51,1860.61 C1017.62,1860.46 1023.74,1860.31 1029.85,1860.16 C1035.96,1860.01 1042.08,1859.87 1048.19,1859.72 C1054.3,1859.58 1060.42,1859.43 1066.53,1859.29 C1072.64,1859.15 1078.75,1859.02 1084.86,1858.88 C1090.97,1858.74 1097.09,1858.6 1103.2,1858.47 C1109.31,1858.34 1115.43,1858.21 1121.54,1858.08 C1127.65,1857.95 1133.77,1857.83 1139.88,1857.71 C1145.99,1857.59 1152.1,1857.47 1158.21,1857.35 C1164.32,1857.23 1170.44,1857.11 1176.55,1857 C1182.66,1856.89 1188.78,1856.78 1194.89,1856.67 C1201,1856.56 1207.11,1856.46 1213.22,1856.36 C1219.33,1856.26 1225.45,1856.16 1231.56,1856.06 C1237.67,1855.96 1243.79,1855.87 1249.9,1855.78 C1256.01,1855.69 1262.13,1855.6 1268.24,1855.51 C1274.35,1855.42 1280.46,1855.35 1286.57,1855.27 C1292.68,1855.19 1298.8,1855.12 1304.91,1855.04 C1311.02,1854.96 1317.14,1854.89 1323.25,1854.82 C1329.36,1854.75 1335.48,1854.68 1341.59,1854.62 C1347.7,1854.56 1353.81,1854.5 1359.92,1854.44 C1366.03,1854.38 1372.15,1854.33 1378.26,1854.28 C1384.37,1854.23 1390.49,1854.19 1396.6,1854.14 C1402.71,1854.1 1408.83,1854.05 1414.94,1854.01 C1421.05,1853.97 1427.16,1853.93 1433.27,1853.9 C1439.38,1853.87 1445.5,1853.84 1451.61,1853.81 C1457.72,1853.78 1463.84,1853.76 1469.95,1853.74 C1476.06,1853.72 1482.18,1853.7 1488.29,1853.69 C1494.4,1853.68 1500.51,1853.66 1506.62,1853.65 C1512.73,1853.64 1518.85,1853.64 1524.96,1853.64 C1531.07,1853.64 1537.19,1853.64 1543.3,1853.64 C1549.41,1853.64 1555.53,1853.65 1561.64,1853.66 C1567.75,1853.67 1573.86,1853.69 1579.97,1853.71 C1586.08,1853.73 1592.2,1853.75 1598.31,1853.77 C1604.42,1853.79 1610.54,1853.82 1616.65,1853.85 C1622.76,1853.88 1628.88,1853.91 1634.99,1853.95 C1641.1,1853.99 1647.21,1854.03 1653.32,1854.07 C1659.43,1854.11 1665.55,1854.16 1671.66,1854.21 C1677.77,1854.26 1683.89,1854.32 1690,1854.38 C1696.11,1854.44 1702.23,1854.5 1708.34,1854.56 C1714.45,1854.62 1720.56,1854.69 1726.67,1854.76 C1732.78,1854.83 1738.9,1854.91 1745.01,1854.99 C1751.12,1855.07 1757.24,1855.14 1763.35,1855.23 C1769.46,1855.32 1775.58,1855.41 1781.69,1855.5 C1787.8,1855.59 1793.91,1855.69 1800.02,1855.79 C1806.13,1855.89 1812.25,1855.98 1818.36,1856.09 C1824.47,1856.2 1830.59,1856.32 1836.7,1856.43 C1842.81,1856.55 1848.93,1856.66 1855.04,1856.78 C1861.15,1856.9 1867.26,1857.02 1873.37,1857.15 C1879.48,1857.28 1885.6,1857.41 1891.71,1857.55 C1897.82,1857.69 1903.94,1857.83 1910.05,1857.97 C1916.16,1858.11 1922.28,1858.26 1928.39,1858.41 C1934.5,1858.56 1940.61,1858.71 1946.72,1858.87 C1952.83,1859.03 1958.95,1859.19 1965.06,1859.36 C1971.17,1859.53 1980.34,1859.78 1983.4,1859.87" fill="none" stroke="#ff0000" stroke-width="5.0"/>
</g>
<g stroke="#1f1f1f" fill="none" stroke-linecap="butt">
<line x1="193.6" y1="1447.8" x2="193.6" y2="2387.95" stroke-width="3.0"/>
<line x1="192.1" y1="2386.9" x2="2011.7" y2="2386.9" stroke-width="2.1"/>
<line x1="192.1" y1="1447.8" x2="2011.7" y2="1447.8" stroke-width="2.0"/>
<path d="M223,2386.9v-19.8 M223,1447.8v19.8 M369.72,2386.9v-19.8 M369.72,1447.8v19.8 M516.44,2386.9v-19.8 M516.44,1447.8v19.8 M663.16,2386.9v-19.8 M663.16,1447.8v19.8 M809.88,2386.9v-19.8 M809.88,1447.8v19.8 M956.6,2386.9v-19.8 M956.6,1447.8v19.8 M1103.32,2386.9v-19.8 M1103.32,1447.8v19.8 M1250.04,2386.9v-19.8 M1250.04,1447.8v19.8 M1396.76,2386.9v-19.8 M1396.76,1447.8v19.8 M1543.48,2386.9v-19.8 M1543.48,1447.8v19.8 M1690.2,2386.9v-19.8 M1690.2,1447.8v19.8 M1836.92,2386.9v-19.8 M1836.92,1447.8v19.8 M1983.64,2386.9v-19.8 M1983.64,1447.8v19.8 M193.6,1566.6h19.8 M2011.7,1566.6h-19.8 M193.6,1766.67h19.8 M2011.7,1766.67h-19.8 M193.6,1966.75h19.8 M2011.7,1966.75h-19.8 M193.6,2166.82h19.8 M2011.7,2166.82h-19.8 M193.6,2366.9h19.8 M2011.7,2366.9h-19.8" stroke-width="2.6"/>
</g>
<g font-family="'Liberation Sans', sans-serif" font-size="50.2" fill="#1f1f1f" stroke="#1f1f1f" stroke-width="0.4">
<text transform="translate(223,2434.4) scale(0.99,1)" text-anchor="middle" dominant-baseline="central">1</text>
<text transform="translate(369.72,2434.4) scale(0.99,1)" text-anchor="middle" dominant-baseline="central">2</text>
<text transform="translate(516.44,2434.4) scale(0.99,1)" text-anchor="middle" dominant-baseline="central">3</text>
<text transform="translate(663.16,2434.4) scale(0.99,1)" text-anchor="middle" dominant-baseline="central">4</text>
<text transform="translate(809.88,2434.4) scale(0.99,1)" text-anchor="middle" dominant-baseline="central">5</text>
<text transform="translate(956.6,2434.4) scale(0.99,1)" text-anchor="middle" dominant-baseline="central">6</text>
<text transform="translate(1103.32,2434.4) scale(0.99,1)" text-anchor="middle" dominant-baseline="central">7</text>
<text transform="translate(1250.04,2434.4) scale(0.99,1)" text-anchor="middle" dominant-baseline="central">8</text>
<text transform="translate(1396.76,2434.4) scale(0.99,1)" text-anchor="middle" dominant-baseline="central">9</text>
<text transform="translate(1543.48,2434.4) scale(0.99,1)" text-anchor="middle" dominant-baseline="central">10</text>
<text transform="translate(1690.2,2434.4) scale(0.99,1)" text-anchor="middle" dominant-baseline="central">11</text>
<text transform="translate(1836.92,2434.4) scale(0.99,1)" text-anchor="middle" dominant-baseline="central">12</text>
<text transform="translate(1983.64,2434.4) scale(0.99,1)" text-anchor="middle" dominant-baseline="central">13</text>
<text transform="translate(179.3,1568.4) scale(0.99,1)" text-anchor="end" dominant-baseline="central">60</text>
<text transform="translate(179.3,1768.47) scale(0.99,1)" text-anchor="end" dominant-baseline="central">80</text>
<text transform="translate(179.3,1968.55) scale(0.99,1)" text-anchor="end" dominant-baseline="central">100</text>
<text transform="translate(179.3,2168.62) scale(0.99,1)" text-anchor="end" dominant-baseline="central">120</text>
<text transform="translate(179.3,2368.7) scale(0.99,1)" text-anchor="end" dominant-baseline="central">140</text>
<text transform="translate(1103.65,2498.8) scale(0.99,1)" text-anchor="middle" dominant-baseline="central">Date</text>
<text transform="translate(59,1916.5) rotate(-90) scale(1.012,1)" text-anchor="middle" dominant-baseline="central">Depth(m)</text>
</g>
<rect x="1259" y="1467.7" width="734" height="179.5" fill="#fff" stroke="#151515" stroke-width="2.6"/>
<circle cx="1303" cy="1500.3" r="3.9" fill="#0000ff"/>
<line x1="1271.8" y1="1558.5" x2="1337.5" y2="1558.5" stroke="#ff0000" stroke-width="5.6"/>
<line x1="1271.8" y1="1615" x2="1337.5" y2="1615" stroke="#ff0000" stroke-width="5.4" stroke-dasharray="12.7 12.3"/>
<g font-family="'Liberation Sans', sans-serif" font-size="43.9" fill="#000" stroke="#000" stroke-width="0.35">
<text transform="translate(1340.1,1501.5) scale(1.0405,1)" dominant-baseline="central">Water levels of line 2</text>
<text transform="translate(1340.1,1559.7) scale(1.0405,1)" dominant-baseline="central">Fitting result of water levels</text>
<text transform="translate(1340.1,1616.2) scale(1.0405,1)" dominant-baseline="central">Prediction bounds of water level</text>
</g>
</g>
<g id="plot3">
<clipPath id="clip3"><rect x="192.2" y="2840" width="1819.7" height="1001.5"/></clipPath>
<g clip-path="url(#clip3)">
<g fill="#0000ff"><circle cx="221.4" cy="2945.9" r="3.9"/><circle cx="221.4" cy="2986.7" r="3.9"/><circle cx="221.4" cy="2990.5" r="3.9"/><circle cx="221.4" cy="2994.3" r="3.9"/><circle cx="221.4" cy="2998.1" r="3.9"/><circle cx="221.4" cy="3002" r="3.9"/><circle cx="221.4" cy="3005.8" r="3.9"/><circle cx="221.4" cy="3009.6" r="3.9"/><circle cx="221.4" cy="3013.4" r="3.9"/><circle cx="221.4" cy="3030" r="3.9"/><circle cx="221.4" cy="3034.3" r="3.9"/><circle cx="221.4" cy="3047.3" r="3.9"/><circle cx="221.4" cy="3053.4" r="3.9"/><circle cx="221.4" cy="3068.7" r="3.9"/><circle cx="221.4" cy="3077.1" r="3.9"/><circle cx="221.4" cy="3080.4" r="3.9"/><circle cx="221.4" cy="3094.5" r="3.9"/><circle cx="368.25" cy="3086.6" r="3.9"/><circle cx="368.25" cy="3142.4" r="3.9"/><circle cx="368.25" cy="3156.6" r="3.9"/><circle cx="368.25" cy="3167.6" r="3.9"/><circle cx="368.25" cy="3171.2" r="3.9"/><circle cx="368.25" cy="3174.8" r="3.9"/><circle cx="368.25" cy="3178.3" r="3.9"/><circle cx="368.25" cy="3181.9" r="3.9"/><circle cx="368.25" cy="3185.5" r="3.9"/><circle cx="368.25" cy="3189.1" r="3.9"/><circle cx="368.25" cy="3192.7" r="3.9"/><circle cx="368.25" cy="3196.2" r="3.9"/><circle cx="368.25" cy="3199.8" r="3.9"/><circle cx="368.25" cy="3203.4" r="3.9"/><circle cx="368.25" cy="3207" r="3.9"/><circle cx="368.25" cy="3210.6" r="3.9"/><circle cx="368.25" cy="3214.2" r="3.9"/><circle cx="368.25" cy="3217.7" r="3.9"/><circle cx="368.25" cy="3221.3" r="3.9"/><circle cx="368.25" cy="3224.9" r="3.9"/><circle cx="515.1" cy="3237.8" r="3.9"/><circle cx="515.1" cy="3302.5" r="3.9"/><circle cx="515.1" cy="3307.1" r="3.9"/><circle cx="515.1" cy="3322.2" r="3.9"/><circle cx="515.1" cy="3338.7" r="3.9"/><circle cx="515.1" cy="3360.4" r="3.9"/><circle cx="515.1" cy="3365.5" r="3.9"/><circle cx="515.1" cy="3370.1" r="3.9"/><circle cx="515.1" cy="3380.8" r="3.9"/><circle cx="515.1" cy="3389.2" r="3.9"/><circle cx="515.1" cy="3394.8" r="3.9"/><circle cx="515.1" cy="3399.9" r="3.9"/><circle cx="515.1" cy="3413.9" r="3.9"/><circle cx="515.1" cy="3422.8" r="3.9"/><circle cx="515.1" cy="3430.4" r="3.9"/><circle cx="515.1" cy="3445.2" r="3.9"/><circle cx="515.1" cy="3458" r="3.9"/><circle cx="515.1" cy="3463.6" r="3.9"/><circle cx="515.1" cy="3472.7" r="3.9"/><circle cx="515.1" cy="3492.9" r="3.9"/><circle cx="515.1" cy="3500.5" r="3.9"/><circle cx="515.1" cy="3514.5" r="3.9"/><circle cx="515.1" cy="3520.9" r="3.9"/><circle cx="515.1" cy="3541" r="3.9"/><circle cx="661.95" cy="3171.1" r="3.9"/><circle cx="661.95" cy="3205" r="3.9"/><circle cx="661.95" cy="3241.9" r="3.9"/><circle cx="661.95" cy="3248.8" r="3.9"/><circle cx="661.95" cy="3295.4" r="3.9"/><circle cx="661.95" cy="3314" r="3.9"/><circle cx="661.95" cy="3317.6" r="3.9"/><circle cx="661.95" cy="3321.1" r="3.9"/><circle cx="661.95" cy="3324.7" r="3.9"/><circle cx="661.95" cy="3328.3" r="3.9"/><circle cx="661.95" cy="3331.8" r="3.9"/><circle cx="661.95" cy="3335.4" r="3.9"/><circle cx="661.95" cy="3339" r="3.9"/><circle cx="661.95" cy="3342.6" r="3.9"/><circle cx="661.95" cy="3346.1" r="3.9"/><circle cx="661.95" cy="3349.7" r="3.9"/><circle cx="661.95" cy="3353.3" r="3.9"/><circle cx="661.95" cy="3356.8" r="3.9"/><circle cx="661.95" cy="3360.4" r="3.9"/><circle cx="661.95" cy="3371.8" r="3.9"/><circle cx="661.95" cy="3380.8" r="3.9"/><circle cx="661.95" cy="3398.6" r="3.9"/><circle cx="661.95" cy="3403.2" r="3.9"/><circle cx="808.8" cy="3230.4" r="3.9"/><circle cx="808.8" cy="3272.4" r="3.9"/><circle cx="808.8" cy="3338.7" r="3.9"/><circle cx="808.8" cy="3342.1" r="3.9"/><circle cx="808.8" cy="3345.6" r="3.9"/><circle cx="808.8" cy="3349" r="3.9"/><circle cx="808.8" cy="3352.5" r="3.9"/><circle cx="808.8" cy="3355.9" r="3.9"/><circle cx="808.8" cy="3359.3" r="3.9"/><circle cx="808.8" cy="3362.8" r="3.9"/><circle cx="808.8" cy="3366.2" r="3.9"/><circle cx="808.8" cy="3369.7" r="3.9"/><circle cx="808.8" cy="3373.1" r="3.9"/><circle cx="808.8" cy="3403.1" r="3.9"/><circle cx="808.8" cy="3408.7" r="3.9"/><circle cx="808.8" cy="3415.1" r="3.9"/><circle cx="808.8" cy="3421.5" r="3.9"/><circle cx="808.8" cy="3441.8" r="3.9"/><circle cx="808.8" cy="3448.2" r="3.9"/><circle cx="808.8" cy="3455.9" r="3.9"/><circle cx="808.8" cy="3474.5" r="3.9"/><circle cx="808.8" cy="3494.8" r="3.9"/><circle cx="808.8" cy="3499.7" r="3.9"/><circle cx="808.8" cy="3517.5" r="3.9"/><circle cx="808.8" cy="3523.4" r="3.9"/><circle cx="808.8" cy="3540.7" r="3.9"/><circle cx="955.65" cy="3364.6" r="3.9"/><circle cx="955.65" cy="3369.2" r="3.9"/><circle cx="955.65" cy="3373.1" r="3.9"/><circle cx="955.65" cy="3388.3" r="3.9"/><circle cx="955.65" cy="3392" r="3.9"/><circle cx="955.65" cy="3395.7" r="3.9"/><circle cx="955.65" cy="3399.5" r="3.9"/><circle cx="955.65" cy="3403.2" r="3.9"/><circle cx="955.65" cy="3406.9" r="3.9"/><circle cx="955.65" cy="3410.6" r="3.9"/><circle cx="955.65" cy="3414.3" r="3.9"/><circle cx="955.65" cy="3418" r="3.9"/><circle cx="955.65" cy="3421.8" r="3.9"/><circle cx="955.65" cy="3425.5" r="3.9"/><circle cx="955.65" cy="3429.2" r="3.9"/><circle cx="955.65" cy="3432.9" r="3.9"/><circle cx="955.65" cy="3441.8" r="3.9"/><circle cx="955.65" cy="3454.6" r="3.9"/><circle cx="955.65" cy="3461" r="3.9"/><circle cx="955.65" cy="3469.9" r="3.9"/><circle cx="955.65" cy="3487.7" r="3.9"/><circle cx="955.65" cy="3492.8" r="3.9"/><circle cx="955.65" cy="3503.8" r="3.9"/><circle cx="955.65" cy="3559" r="3.9"/><circle cx="955.65" cy="3578.7" r="3.9"/><circle cx="955.65" cy="3589.6" r="3.9"/><circle cx="955.65" cy="3620.2" r="3.9"/><circle cx="955.65" cy="3647.7" r="3.9"/><circle cx="955.65" cy="3761.6" r="3.9"/><circle cx="955.65" cy="3771.3" r="3.9"/><circle cx="1102.5" cy="3173.7" r="3.9"/><circle cx="1102.5" cy="3177.1" r="3.9"/><circle cx="1102.5" cy="3180.5" r="3.9"/><circle cx="1102.5" cy="3183.9" r="3.9"/><circle cx="1102.5" cy="3187.3" r="3.9"/><circle cx="1102.5" cy="3190.7" r="3.9"/><circle cx="1102.5" cy="3194.1" r="3.9"/><circle cx="1102.5" cy="3310" r="3.9"/><circle cx="1102.5" cy="3315.6" r="3.9"/><circle cx="1102.5" cy="3338" r="3.9"/><circle cx="1102.5" cy="3349.2" r="3.9"/><circle cx="1102.5" cy="3354.3" r="3.9"/><circle cx="1102.5" cy="3369.6" r="3.9"/><circle cx="1102.5" cy="3374.7" r="3.9"/><circle cx="1102.5" cy="3379.3" r="3.9"/><circle cx="1102.5" cy="3399.2" r="3.9"/><circle cx="1102.5" cy="3402.7" r="3.9"/><circle cx="1102.5" cy="3406.1" r="3.9"/><circle cx="1102.5" cy="3409.6" r="3.9"/><circle cx="1102.5" cy="3413.1" r="3.9"/><circle cx="1102.5" cy="3416.5" r="3.9"/><circle cx="1102.5" cy="3420" r="3.9"/><circle cx="1102.5" cy="3423.4" r="3.9"/><circle cx="1102.5" cy="3426.9" r="3.9"/><circle cx="1102.5" cy="3445" r="3.9"/><circle cx="1102.5" cy="3450.6" r="3.9"/><circle cx="1249.35" cy="3186.2" r="3.9"/><circle cx="1249.35" cy="3216.8" r="3.9"/><circle cx="1249.35" cy="3223.9" r="3.9"/><circle cx="1249.35" cy="3270.5" r="3.9"/><circle cx="1249.35" cy="3310.5" r="3.9"/><circle cx="1249.35" cy="3315.6" r="3.9"/><circle cx="1249.35" cy="3332.9" r="3.9"/><circle cx="1249.35" cy="3338.5" r="3.9"/><circle cx="1249.35" cy="3344.9" r="3.9"/><circle cx="1249.35" cy="3351.3" r="3.9"/><circle cx="1249.35" cy="3356.4" r="3.9"/><circle cx="1249.35" cy="3367.1" r="3.9"/><circle cx="1249.35" cy="3370.7" r="3.9"/><circle cx="1249.35" cy="3374.2" r="3.9"/><circle cx="1249.35" cy="3377.8" r="3.9"/><circle cx="1249.35" cy="3381.3" r="3.9"/><circle cx="1249.35" cy="3384.9" r="3.9"/><circle cx="1249.35" cy="3388.4" r="3.9"/><circle cx="1249.35" cy="3392" r="3.9"/><circle cx="1249.35" cy="3402.7" r="3.9"/><circle cx="1249.35" cy="3455.2" r="3.9"/><circle cx="1396.2" cy="3259.6" r="3.9"/><circle cx="1396.2" cy="3343.4" r="3.9"/><circle cx="1396.2" cy="3351.8" r="3.9"/><circle cx="1396.2" cy="3363.2" r="3.9"/><circle cx="1396.2" cy="3366.9" r="3.9"/><circle cx="1396.2" cy="3370.6" r="3.9"/><circle cx="1396.2" cy="3374.3" r="3.9"/><circle cx="1396.2" cy="3378" r="3.9"/><circle cx="1396.2" cy="3381.7" r="3.9"/><circle cx="1396.2" cy="3385.4" r="3.9"/><circle cx="1396.2" cy="3389.1" r="3.9"/><circle cx="1396.2" cy="3392.8" r="3.9"/><circle cx="1396.2" cy="3396.5" r="3.9"/><circle cx="1396.2" cy="3400.2" r="3.9"/><circle cx="1396.2" cy="3412.9" r="3.9"/><circle cx="1396.2" cy="3420.6" r="3.9"/><circle cx="1396.2" cy="3435.9" r="3.9"/><circle cx="1396.2" cy="3461.3" r="3.9"/><circle cx="1396.2" cy="3520.7" r="3.9"/><circle cx="1543.05" cy="3220.6" r="3.9"/><circle cx="1543.05" cy="3267.7" r="3.9"/><circle cx="1543.05" cy="3287.6" r="3.9"/><circle cx="1543.05" cy="3309" r="3.9"/><circle cx="1543.05" cy="3319.9" r="3.9"/><circle cx="1543.05" cy="3323.4" r="3.9"/><circle cx="1543.05" cy="3326.9" r="3.9"/><circle cx="1543.05" cy="3330.3" r="3.9"/><circle cx="1543.05" cy="3333.8" r="3.9"/><circle cx="1543.05" cy="3337.3" r="3.9"/><circle cx="1543.05" cy="3340.8" r="3.9"/><circle cx="1543.05" cy="3344.3" r="3.9"/><circle cx="1543.05" cy="3347.8" r="3.9"/><circle cx="1543.05" cy="3351.2" r="3.9"/><circle cx="1543.05" cy="3354.7" r="3.9"/><circle cx="1543.05" cy="3358.2" r="3.9"/><circle cx="1543.05" cy="3381.1" r="3.9"/><circle cx="1543.05" cy="3387.5" r="3.9"/><circle cx="1543.05" cy="3392.5" r="3.9"/><circle cx="1543.05" cy="3397.6" r="3.9"/><circle cx="1543.05" cy="3428.7" r="3.9"/><circle cx="1543.05" cy="3444.8" r="3.9"/><circle cx="1543.05" cy="3472" r="3.9"/><circle cx="1836.75" cy="3183.7" r="3.9"/><circle cx="1836.75" cy="3299.9" r="3.9"/><circle cx="1836.75" cy="3309" r="3.9"/><circle cx="1836.75" cy="3315.4" r="3.9"/><circle cx="1836.75" cy="3321.8" r="3.9"/><circle cx="1836.75" cy="3329.4" r="3.9"/><circle cx="1836.75" cy="3352.9" r="3.9"/><circle cx="1836.75" cy="3356.6" r="3.9"/><circle cx="1836.75" cy="3360.2" r="3.9"/><circle cx="1836.75" cy="3363.8" r="3.9"/><circle cx="1836.75" cy="3367.5" r="3.9"/><circle cx="1836.75" cy="3371.2" r="3.9"/><circle cx="1836.75" cy="3374.8" r="3.9"/><circle cx="1836.75" cy="3378.4" r="3.9"/><circle cx="1836.75" cy="3382.1" r="3.9"/><circle cx="1836.75" cy="3385.8" r="3.9"/><circle cx="1836.75" cy="3389.4" r="3.9"/><circle cx="1836.75" cy="3393.1" r="3.9"/><circle cx="1836.75" cy="3396.7" r="3.9"/><circle cx="1836.75" cy="3400.3" r="3.9"/><circle cx="1836.75" cy="3404" r="3.9"/><circle cx="1836.75" cy="3407.7" r="3.9"/><circle cx="1836.75" cy="3411.3" r="3.9"/><circle cx="1836.75" cy="3414.9" r="3.9"/><circle cx="1836.75" cy="3418.6" r="3.9"/><circle cx="1836.75" cy="3435.2" r="3.9"/><circle cx="1836.75" cy="3444.1" r="3.9"/><circle cx="1836.75" cy="3498.3" r="3.9"/><circle cx="1836.75" cy="3517.2" r="3.9"/><circle cx="1983.6" cy="3176.8" r="3.9"/><circle cx="1983.6" cy="3242.8" r="3.9"/><circle cx="1983.6" cy="3249.2" r="3.9"/><circle cx="1983.6" cy="3258.1" r="3.9"/><circle cx="1983.6" cy="3267" r="3.9"/><circle cx="1983.6" cy="3281" r="3.9"/><circle cx="1983.6" cy="3287.4" r="3.9"/><circle cx="1983.6" cy="3310.8" r="3.9"/><circle cx="1983.6" cy="3314.2" r="3.9"/><circle cx="1983.6" cy="3317.7" r="3.9"/><circle cx="1983.6" cy="3321.1" r="3.9"/><circle cx="1983.6" cy="3324.6" r="3.9"/><circle cx="1983.6" cy="3328" r="3.9"/><circle cx="1983.6" cy="3331.4" r="3.9"/><circle cx="1983.6" cy="3334.9" r="3.9"/><circle cx="1983.6" cy="3338.3" r="3.9"/><circle cx="1983.6" cy="3347.3" r="3.9"/><circle cx="1983.6" cy="3359.5" r="3.9"/><circle cx="1983.6" cy="3368.9" r="3.9"/><circle cx="1983.6" cy="3380.4" r="3.9"/><circle cx="1983.6" cy="3386.8" r="3.9"/><circle cx="1983.6" cy="3394.4" r="3.9"/><circle cx="1983.6" cy="3402" r="3.9"/><circle cx="1983.6" cy="3421.1" r="3.9"/><circle cx="1983.6" cy="3435.2" r="3.9"/><circle cx="1983.6" cy="3442.8" r="3.9"/><circle cx="1983.6" cy="3459.4" r="3.9"/><circle cx="1983.6" cy="3465.7" r="3.9"/><circle cx="1983.6" cy="3473.4" r="3.9"/></g>
<path d="M221.4,2912.89 C222.38,2914.58 225.31,2919.68 227.27,2923.03 C229.23,2926.38 231.19,2929.7 233.15,2932.99 C235.11,2936.28 237.06,2939.54 239.02,2942.76 C240.98,2945.99 242.94,2949.18 244.9,2952.34 C246.86,2955.5 248.81,2958.62 250.77,2961.72 C252.73,2964.82 254.68,2967.89 256.64,2970.92 C258.6,2973.95 260.56,2976.94 262.52,2979.91 C264.48,2982.88 266.43,2985.81 268.39,2988.71 C270.35,2991.61 272.31,2994.47 274.27,2997.3 C276.23,3000.13 278.18,3002.93 280.14,3005.69 C282.1,3008.45 284.05,3011.18 286.01,3013.87 C287.97,3016.56 289.93,3019.22 291.89,3021.84 C293.85,3024.46 295.8,3027.05 297.76,3029.6 C299.72,3032.15 301.68,3034.67 303.64,3037.15 C305.6,3039.63 307.55,3042.08 309.51,3044.49 C311.47,3046.9 313.42,3049.28 315.38,3051.63 C317.34,3053.98 319.3,3056.3 321.26,3058.58 C323.22,3060.86 325.17,3063.12 327.13,3065.34 C329.09,3067.56 331.05,3069.76 333.01,3071.92 C334.97,3074.08 336.92,3076.21 338.88,3078.32 C340.84,3080.43 342.79,3082.51 344.75,3084.56 C346.71,3086.61 348.67,3088.63 350.63,3090.63 C352.59,3092.63 354.54,3094.6 356.5,3096.55 C358.46,3098.5 360.42,3100.41 362.38,3102.31 C364.34,3104.21 366.29,3106.08 368.25,3107.93 C370.21,3109.78 372.16,3111.6 374.12,3113.41 C376.08,3115.22 378.04,3117 380,3118.76 C381.96,3120.52 383.91,3122.27 385.87,3123.99 C387.83,3125.71 389.79,3127.41 391.75,3129.09 C393.71,3130.77 395.66,3132.43 397.62,3134.08 C399.58,3135.73 401.53,3137.36 403.49,3138.97 C405.45,3140.58 407.41,3142.17 409.37,3143.75 C411.33,3145.33 413.28,3146.88 415.24,3148.43 C417.2,3149.97 419.16,3151.51 421.12,3153.02 C423.08,3154.53 425.03,3156.03 426.99,3157.51 C428.95,3158.99 430.9,3160.45 432.86,3161.9 C434.82,3163.35 436.78,3164.78 438.74,3166.2 C440.7,3167.62 442.65,3169.01 444.61,3170.4 C446.57,3171.79 448.53,3173.16 450.49,3174.51 C452.45,3175.87 454.4,3177.21 456.36,3178.53 C458.32,3179.86 460.27,3181.16 462.23,3182.46 C464.19,3183.76 466.15,3185.04 468.11,3186.3 C470.07,3187.57 472.02,3188.81 473.98,3190.05 C475.94,3191.29 477.9,3192.51 479.86,3193.72 C481.82,3194.93 483.77,3196.12 485.73,3197.3 C487.69,3198.48 489.64,3199.64 491.6,3200.79 C493.56,3201.94 495.52,3203.08 497.48,3204.2 C499.44,3205.32 501.39,3206.44 503.35,3207.53 C505.31,3208.62 507.27,3209.7 509.23,3210.77 C511.19,3211.84 511.06,3211.85 515.1,3213.94 C519.14,3216.03 527.34,3220.32 533.46,3223.32 C539.58,3226.32 545.69,3229.2 551.81,3231.96 C557.93,3234.72 564.05,3237.36 570.17,3239.89 C576.29,3242.42 582.4,3244.83 588.52,3247.14 C594.64,3249.45 600.76,3251.64 606.88,3253.74 C613,3255.84 619.12,3257.83 625.24,3259.73 C631.36,3261.63 637.47,3263.43 643.59,3265.14 C649.71,3266.85 655.83,3268.47 661.95,3270.01 C668.07,3271.55 674.19,3273 680.31,3274.37 C686.43,3275.74 692.54,3277.02 698.66,3278.24 C704.78,3279.46 710.9,3280.6 717.02,3281.67 C723.14,3282.74 729.26,3283.74 735.38,3284.68 C741.5,3285.62 747.61,3286.49 753.73,3287.31 C759.85,3288.13 765.97,3288.89 772.09,3289.6 C778.21,3290.31 784.32,3290.96 790.44,3291.57 C796.56,3292.18 802.68,3292.74 808.8,3293.26 C814.92,3293.78 821.04,3294.25 827.16,3294.69 C833.28,3295.13 839.39,3295.53 845.51,3295.89 C851.63,3296.25 857.75,3296.57 863.87,3296.86 C869.99,3297.15 876.1,3297.39 882.22,3297.61 C888.34,3297.83 894.46,3298.01 900.58,3298.16 C906.7,3298.31 912.82,3298.42 918.94,3298.5 C925.06,3298.58 931.17,3298.64 937.29,3298.66 C943.41,3298.68 949.53,3298.67 955.65,3298.64 C961.77,3298.61 967.89,3298.54 974.01,3298.45 C980.13,3298.36 986.24,3298.25 992.36,3298.11 C998.48,3297.97 1004.6,3297.8 1010.72,3297.62 C1016.84,3297.43 1022.96,3297.23 1029.08,3297 C1035.2,3296.77 1041.31,3296.52 1047.43,3296.25 C1053.55,3295.98 1059.67,3295.69 1065.79,3295.38 C1071.91,3295.07 1078.02,3294.75 1084.14,3294.41 C1090.26,3294.07 1096.38,3293.71 1102.5,3293.34 C1108.62,3292.97 1114.74,3292.59 1120.86,3292.19 C1126.98,3291.8 1133.09,3291.39 1139.21,3290.97 C1145.33,3290.55 1151.45,3290.12 1157.57,3289.68 C1163.69,3289.24 1169.8,3288.79 1175.92,3288.33 C1182.04,3287.87 1188.16,3287.41 1194.28,3286.94 C1200.4,3286.47 1206.52,3286 1212.64,3285.52 C1218.76,3285.04 1224.87,3284.56 1230.99,3284.07 C1237.11,3283.59 1243.23,3283.1 1249.35,3282.61 C1255.47,3282.12 1261.59,3281.64 1267.71,3281.15 C1273.83,3280.66 1279.94,3280.17 1286.06,3279.69 C1292.18,3279.21 1298.3,3278.73 1304.42,3278.26 C1310.54,3277.79 1316.66,3277.32 1322.78,3276.85 C1328.9,3276.38 1335.01,3275.92 1341.13,3275.47 C1347.25,3275.02 1353.37,3274.58 1359.49,3274.14 C1365.61,3273.7 1371.72,3273.27 1377.84,3272.85 C1383.96,3272.43 1390.08,3272.02 1396.2,3271.61 C1402.32,3271.2 1408.44,3270.81 1414.56,3270.42 C1420.68,3270.03 1426.79,3269.65 1432.91,3269.28 C1439.03,3268.91 1445.15,3268.55 1451.27,3268.2 C1457.39,3267.85 1463.5,3267.51 1469.62,3267.18 C1475.74,3266.85 1481.86,3266.53 1487.98,3266.22 C1494.1,3265.91 1500.22,3265.62 1506.34,3265.33 C1512.46,3265.04 1518.57,3264.76 1524.69,3264.5 C1530.81,3264.24 1536.93,3263.99 1543.05,3263.75 C1549.17,3263.51 1555.29,3263.28 1561.41,3263.07 C1567.53,3262.86 1573.64,3262.66 1579.76,3262.48 C1585.88,3262.3 1592,3262.12 1598.12,3261.96 C1604.24,3261.8 1610.36,3261.65 1616.48,3261.52 C1622.6,3261.39 1628.71,3261.28 1634.83,3261.18 C1640.95,3261.08 1647.07,3260.99 1653.19,3260.92 C1659.31,3260.85 1665.42,3260.8 1671.54,3260.76 C1677.66,3260.72 1683.78,3260.7 1689.9,3260.7 C1696.02,3260.69 1702.14,3260.7 1708.26,3260.73 C1714.38,3260.76 1720.49,3260.8 1726.61,3260.87 C1732.73,3260.93 1738.85,3261.02 1744.97,3261.12 C1751.09,3261.22 1757.21,3261.33 1763.33,3261.47 C1769.45,3261.61 1775.56,3261.76 1781.68,3261.94 C1787.8,3262.12 1793.92,3262.31 1800.04,3262.52 C1806.16,3262.73 1812.27,3262.97 1818.39,3263.22 C1824.51,3263.47 1830.63,3263.75 1836.75,3264.04 C1842.87,3264.33 1848.99,3264.64 1855.11,3264.98 C1861.23,3265.32 1867.34,3265.68 1873.46,3266.06 C1879.58,3266.44 1885.7,3266.84 1891.82,3267.26 C1897.94,3267.68 1904.05,3268.13 1910.17,3268.6 C1916.29,3269.07 1922.41,3269.57 1928.53,3270.08 C1934.65,3270.59 1940.77,3271.13 1946.89,3271.69 C1953.01,3272.25 1959.12,3272.84 1965.24,3273.45 C1971.36,3274.06 1980.54,3275.04 1983.6,3275.36" fill="none" stroke="#ff0000" stroke-width="5.0" stroke-dasharray="14 11" stroke-dashoffset="0"/>
<path d="M221.4,3117.69 C222.38,3119.38 225.31,3124.48 227.27,3127.83 C229.23,3131.18 231.19,3134.5 233.15,3137.79 C235.11,3141.08 237.06,3144.34 239.02,3147.56 C240.98,3150.78 242.94,3153.98 244.9,3157.14 C246.86,3160.3 248.81,3163.42 250.77,3166.52 C252.73,3169.62 254.68,3172.69 256.64,3175.72 C258.6,3178.75 260.56,3181.74 262.52,3184.71 C264.48,3187.68 266.43,3190.61 268.39,3193.51 C270.35,3196.41 272.31,3199.27 274.27,3202.1 C276.23,3204.93 278.18,3207.73 280.14,3210.49 C282.1,3213.25 284.05,3215.98 286.01,3218.67 C287.97,3221.36 289.93,3224.02 291.89,3226.64 C293.85,3229.26 295.8,3231.85 297.76,3234.4 C299.72,3236.95 301.68,3239.47 303.64,3241.95 C305.6,3244.43 307.55,3246.88 309.51,3249.29 C311.47,3251.7 313.42,3254.08 315.38,3256.43 C317.34,3258.78 319.3,3261.1 321.26,3263.38 C323.22,3265.66 325.17,3267.92 327.13,3270.14 C329.09,3272.36 331.05,3274.56 333.01,3276.72 C334.97,3278.88 336.92,3281.01 338.88,3283.12 C340.84,3285.23 342.79,3287.31 344.75,3289.36 C346.71,3291.41 348.67,3293.43 350.63,3295.43 C352.59,3297.43 354.54,3299.4 356.5,3301.35 C358.46,3303.3 360.42,3305.21 362.38,3307.11 C364.34,3309.01 366.29,3310.88 368.25,3312.73 C370.21,3314.58 372.16,3316.41 374.12,3318.21 C376.08,3320.01 378.04,3321.8 380,3323.56 C381.96,3325.32 383.91,3327.07 385.87,3328.79 C387.83,3330.51 389.79,3332.21 391.75,3333.89 C393.71,3335.57 395.66,3337.23 397.62,3338.88 C399.58,3340.53 401.53,3342.16 403.49,3343.77 C405.45,3345.38 407.41,3346.97 409.37,3348.55 C411.33,3350.13 413.28,3351.68 415.24,3353.23 C417.2,3354.78 419.16,3356.31 421.12,3357.82 C423.08,3359.33 425.03,3360.83 426.99,3362.31 C428.95,3363.79 430.9,3365.25 432.86,3366.7 C434.82,3368.15 436.78,3369.58 438.74,3371 C440.7,3372.42 442.65,3373.81 444.61,3375.2 C446.57,3376.59 448.53,3377.95 450.49,3379.31 C452.45,3380.66 454.4,3382.01 456.36,3383.33 C458.32,3384.65 460.27,3385.97 462.23,3387.26 C464.19,3388.56 466.15,3389.84 468.11,3391.1 C470.07,3392.36 472.02,3393.61 473.98,3394.85 C475.94,3396.09 477.9,3397.31 479.86,3398.52 C481.82,3399.73 483.77,3400.92 485.73,3402.1 C487.69,3403.28 489.64,3404.44 491.6,3405.59 C493.56,3406.74 495.52,3407.88 497.48,3409 C499.44,3410.12 501.39,3411.23 503.35,3412.33 C505.31,3413.43 507.27,3414.5 509.23,3415.57 C511.19,3416.64 511.06,3416.65 515.1,3418.74 C519.14,3420.83 527.34,3425.12 533.46,3428.12 C539.58,3431.12 545.69,3434 551.81,3436.76 C557.93,3439.52 564.05,3442.16 570.17,3444.69 C576.29,3447.22 582.4,3449.63 588.52,3451.94 C594.64,3454.25 600.76,3456.44 606.88,3458.54 C613,3460.64 619.12,3462.63 625.24,3464.53 C631.36,3466.43 637.47,3468.23 643.59,3469.94 C649.71,3471.65 655.83,3473.27 661.95,3474.81 C668.07,3476.35 674.19,3477.8 680.31,3479.17 C686.43,3480.54 692.54,3481.82 698.66,3483.04 C704.78,3484.26 710.9,3485.4 717.02,3486.47 C723.14,3487.54 729.26,3488.54 735.38,3489.48 C741.5,3490.42 747.61,3491.29 753.73,3492.11 C759.85,3492.93 765.97,3493.69 772.09,3494.4 C778.21,3495.11 784.32,3495.76 790.44,3496.37 C796.56,3496.98 802.68,3497.54 808.8,3498.06 C814.92,3498.58 821.04,3499.05 827.16,3499.49 C833.28,3499.93 839.39,3500.33 845.51,3500.69 C851.63,3501.05 857.75,3501.37 863.87,3501.66 C869.99,3501.95 876.1,3502.19 882.22,3502.41 C888.34,3502.63 894.46,3502.81 900.58,3502.96 C906.7,3503.11 912.82,3503.22 918.94,3503.3 C925.06,3503.38 931.17,3503.44 937.29,3503.46 C943.41,3503.48 949.53,3503.47 955.65,3503.44 C961.77,3503.41 967.89,3503.34 974.01,3503.25 C980.13,3503.16 986.24,3503.05 992.36,3502.91 C998.48,3502.77 1004.6,3502.61 1010.72,3502.42 C1016.84,3502.24 1022.96,3502.03 1029.08,3501.8 C1035.2,3501.57 1041.31,3501.32 1047.43,3501.05 C1053.55,3500.78 1059.67,3500.49 1065.79,3500.18 C1071.91,3499.87 1078.02,3499.55 1084.14,3499.21 C1090.26,3498.87 1096.38,3498.51 1102.5,3498.14 C1108.62,3497.77 1114.74,3497.38 1120.86,3496.99 C1126.98,3496.59 1133.09,3496.19 1139.21,3495.77 C1145.33,3495.35 1151.45,3494.92 1157.57,3494.48 C1163.69,3494.04 1169.8,3493.59 1175.92,3493.13 C1182.04,3492.67 1188.16,3492.21 1194.28,3491.74 C1200.4,3491.27 1206.52,3490.8 1212.64,3490.32 C1218.76,3489.84 1224.87,3489.36 1230.99,3488.87 C1237.11,3488.38 1243.23,3487.9 1249.35,3487.41 C1255.47,3486.92 1261.59,3486.44 1267.71,3485.95 C1273.83,3485.46 1279.94,3484.97 1286.06,3484.49 C1292.18,3484.01 1298.3,3483.53 1304.42,3483.06 C1310.54,3482.59 1316.66,3482.12 1322.78,3481.65 C1328.9,3481.18 1335.01,3480.72 1341.13,3480.27 C1347.25,3479.82 1353.37,3479.38 1359.49,3478.94 C1365.61,3478.5 1371.72,3478.07 1377.84,3477.65 C1383.96,3477.23 1390.08,3476.82 1396.2,3476.41 C1402.32,3476 1408.44,3475.61 1414.56,3475.22 C1420.68,3474.83 1426.79,3474.45 1432.91,3474.08 C1439.03,3473.71 1445.15,3473.35 1451.27,3473 C1457.39,3472.65 1463.5,3472.31 1469.62,3471.98 C1475.74,3471.65 1481.86,3471.33 1487.98,3471.02 C1494.1,3470.71 1500.22,3470.42 1506.34,3470.13 C1512.46,3469.84 1518.57,3469.56 1524.69,3469.3 C1530.81,3469.04 1536.93,3468.79 1543.05,3468.55 C1549.17,3468.31 1555.29,3468.08 1561.41,3467.87 C1567.53,3467.66 1573.64,3467.47 1579.76,3467.28 C1585.88,3467.1 1592,3466.92 1598.12,3466.76 C1604.24,3466.6 1610.36,3466.45 1616.48,3466.32 C1622.6,3466.19 1628.71,3466.08 1634.83,3465.98 C1640.95,3465.88 1647.07,3465.79 1653.19,3465.72 C1659.31,3465.65 1665.42,3465.6 1671.54,3465.56 C1677.66,3465.52 1683.78,3465.51 1689.9,3465.5 C1696.02,3465.49 1702.14,3465.5 1708.26,3465.53 C1714.38,3465.56 1720.49,3465.61 1726.61,3465.67 C1732.73,3465.74 1738.85,3465.82 1744.97,3465.92 C1751.09,3466.02 1757.21,3466.13 1763.33,3466.27 C1769.45,3466.41 1775.56,3466.56 1781.68,3466.74 C1787.8,3466.91 1793.92,3467.11 1800.04,3467.32 C1806.16,3467.53 1812.27,3467.77 1818.39,3468.02 C1824.51,3468.27 1830.63,3468.55 1836.75,3468.84 C1842.87,3469.13 1848.99,3469.44 1855.11,3469.78 C1861.23,3470.12 1867.34,3470.48 1873.46,3470.86 C1879.58,3471.24 1885.7,3471.64 1891.82,3472.06 C1897.94,3472.48 1904.05,3472.93 1910.17,3473.4 C1916.29,3473.87 1922.41,3474.37 1928.53,3474.88 C1934.65,3475.39 1940.77,3475.93 1946.89,3476.49 C1953.01,3477.05 1959.12,3477.64 1965.24,3478.25 C1971.36,3478.86 1980.54,3479.84 1983.6,3480.16" fill="none" stroke="#ff0000" stroke-width="5.0" stroke-dasharray="14 11" stroke-dashoffset="0"/>
<path d="M221.4,3014.69 C222.38,3016.38 225.31,3021.48 227.27,3024.83 C229.23,3028.18 231.19,3031.5 233.15,3034.79 C235.11,3038.08 237.06,3041.34 239.02,3044.56 C240.98,3047.78 242.94,3050.98 244.9,3054.14 C246.86,3057.3 248.81,3060.42 250.77,3063.52 C252.73,3066.62 254.68,3069.69 256.64,3072.72 C258.6,3075.75 260.56,3078.74 262.52,3081.71 C264.48,3084.68 266.43,3087.61 268.39,3090.51 C270.35,3093.41 272.31,3096.27 274.27,3099.1 C276.23,3101.93 278.18,3104.73 280.14,3107.49 C282.1,3110.25 284.05,3112.98 286.01,3115.67 C287.97,3118.36 289.93,3121.02 291.89,3123.64 C293.85,3126.26 295.8,3128.85 297.76,3131.4 C299.72,3133.95 301.68,3136.47 303.64,3138.95 C305.6,3141.43 307.55,3143.88 309.51,3146.29 C311.47,3148.7 313.42,3151.08 315.38,3153.43 C317.34,3155.78 319.3,3158.1 321.26,3160.38 C323.22,3162.66 325.17,3164.92 327.13,3167.14 C329.09,3169.36 331.05,3171.56 333.01,3173.72 C334.97,3175.88 336.92,3178.01 338.88,3180.12 C340.84,3182.23 342.79,3184.31 344.75,3186.36 C346.71,3188.41 348.67,3190.43 350.63,3192.43 C352.59,3194.43 354.54,3196.4 356.5,3198.35 C358.46,3200.3 360.42,3202.21 362.38,3204.11 C364.34,3206.01 366.29,3207.88 368.25,3209.73 C370.21,3211.58 372.16,3213.41 374.12,3215.21 C376.08,3217.01 378.04,3218.8 380,3220.56 C381.96,3222.32 383.91,3224.07 385.87,3225.79 C387.83,3227.51 389.79,3229.21 391.75,3230.89 C393.71,3232.57 395.66,3234.23 397.62,3235.88 C399.58,3237.53 401.53,3239.16 403.49,3240.77 C405.45,3242.38 407.41,3243.97 409.37,3245.55 C411.33,3247.13 413.28,3248.68 415.24,3250.23 C417.2,3251.78 419.16,3253.31 421.12,3254.82 C423.08,3256.33 425.03,3257.83 426.99,3259.31 C428.95,3260.79 430.9,3262.25 432.86,3263.7 C434.82,3265.15 436.78,3266.58 438.74,3268 C440.7,3269.42 442.65,3270.81 444.61,3272.2 C446.57,3273.59 448.53,3274.95 450.49,3276.31 C452.45,3277.66 454.4,3279.01 456.36,3280.33 C458.32,3281.65 460.27,3282.97 462.23,3284.26 C464.19,3285.56 466.15,3286.84 468.11,3288.1 C470.07,3289.36 472.02,3290.61 473.98,3291.85 C475.94,3293.09 477.9,3294.31 479.86,3295.52 C481.82,3296.73 483.77,3297.92 485.73,3299.1 C487.69,3300.28 489.64,3301.44 491.6,3302.59 C493.56,3303.74 495.52,3304.88 497.48,3306 C499.44,3307.12 501.39,3308.23 503.35,3309.33 C505.31,3310.43 507.27,3311.5 509.23,3312.57 C511.19,3313.64 511.06,3313.65 515.1,3315.74 C519.14,3317.83 527.34,3322.12 533.46,3325.12 C539.58,3328.12 545.69,3331 551.81,3333.76 C557.93,3336.52 564.05,3339.16 570.17,3341.69 C576.29,3344.22 582.4,3346.63 588.52,3348.94 C594.64,3351.25 600.76,3353.44 606.88,3355.54 C613,3357.64 619.12,3359.63 625.24,3361.53 C631.36,3363.43 637.47,3365.23 643.59,3366.94 C649.71,3368.65 655.83,3370.27 661.95,3371.81 C668.07,3373.35 674.19,3374.8 680.31,3376.17 C686.43,3377.54 692.54,3378.82 698.66,3380.04 C704.78,3381.26 710.9,3382.4 717.02,3383.47 C723.14,3384.54 729.26,3385.54 735.38,3386.48 C741.5,3387.42 747.61,3388.29 753.73,3389.11 C759.85,3389.93 765.97,3390.69 772.09,3391.4 C778.21,3392.11 784.32,3392.76 790.44,3393.37 C796.56,3393.98 802.68,3394.54 808.8,3395.06 C814.92,3395.58 821.04,3396.05 827.16,3396.49 C833.28,3396.93 839.39,3397.33 845.51,3397.69 C851.63,3398.05 857.75,3398.37 863.87,3398.66 C869.99,3398.95 876.1,3399.19 882.22,3399.41 C888.34,3399.63 894.46,3399.81 900.58,3399.96 C906.7,3400.11 912.82,3400.22 918.94,3400.3 C925.06,3400.38 931.17,3400.44 937.29,3400.46 C943.41,3400.48 949.53,3400.47 955.65,3400.44 C961.77,3400.41 967.89,3400.34 974.01,3400.25 C980.13,3400.16 986.24,3400.05 992.36,3399.91 C998.48,3399.77 1004.6,3399.61 1010.72,3399.42 C1016.84,3399.24 1022.96,3399.03 1029.08,3398.8 C1035.2,3398.57 1041.31,3398.32 1047.43,3398.05 C1053.55,3397.78 1059.67,3397.49 1065.79,3397.18 C1071.91,3396.87 1078.02,3396.55 1084.14,3396.21 C1090.26,3395.87 1096.38,3395.51 1102.5,3395.14 C1108.62,3394.77 1114.74,3394.38 1120.86,3393.99 C1126.98,3393.59 1133.09,3393.19 1139.21,3392.77 C1145.33,3392.35 1151.45,3391.92 1157.57,3391.48 C1163.69,3391.04 1169.8,3390.59 1175.92,3390.13 C1182.04,3389.67 1188.16,3389.21 1194.28,3388.74 C1200.4,3388.27 1206.52,3387.8 1212.64,3387.32 C1218.76,3386.84 1224.87,3386.36 1230.99,3385.87 C1237.11,3385.38 1243.23,3384.9 1249.35,3384.41 C1255.47,3383.92 1261.59,3383.44 1267.71,3382.95 C1273.83,3382.46 1279.94,3381.97 1286.06,3381.49 C1292.18,3381.01 1298.3,3380.53 1304.42,3380.06 C1310.54,3379.59 1316.66,3379.12 1322.78,3378.65 C1328.9,3378.18 1335.01,3377.72 1341.13,3377.27 C1347.25,3376.82 1353.37,3376.38 1359.49,3375.94 C1365.61,3375.5 1371.72,3375.07 1377.84,3374.65 C1383.96,3374.23 1390.08,3373.82 1396.2,3373.41 C1402.32,3373 1408.44,3372.61 1414.56,3372.22 C1420.68,3371.83 1426.79,3371.45 1432.91,3371.08 C1439.03,3370.71 1445.15,3370.35 1451.27,3370 C1457.39,3369.65 1463.5,3369.31 1469.62,3368.98 C1475.74,3368.65 1481.86,3368.33 1487.98,3368.02 C1494.1,3367.71 1500.22,3367.42 1506.34,3367.13 C1512.46,3366.84 1518.57,3366.56 1524.69,3366.3 C1530.81,3366.04 1536.93,3365.79 1543.05,3365.55 C1549.17,3365.31 1555.29,3365.08 1561.41,3364.87 C1567.53,3364.66 1573.64,3364.47 1579.76,3364.28 C1585.88,3364.1 1592,3363.92 1598.12,3363.76 C1604.24,3363.6 1610.36,3363.45 1616.48,3363.32 C1622.6,3363.19 1628.71,3363.08 1634.83,3362.98 C1640.95,3362.88 1647.07,3362.79 1653.19,3362.72 C1659.31,3362.65 1665.42,3362.6 1671.54,3362.56 C1677.66,3362.52 1683.78,3362.51 1689.9,3362.5 C1696.02,3362.49 1702.14,3362.5 1708.26,3362.53 C1714.38,3362.56 1720.49,3362.61 1726.61,3362.67 C1732.73,3362.74 1738.85,3362.82 1744.97,3362.92 C1751.09,3363.02 1757.21,3363.13 1763.33,3363.27 C1769.45,3363.41 1775.56,3363.56 1781.68,3363.74 C1787.8,3363.91 1793.92,3364.11 1800.04,3364.32 C1806.16,3364.53 1812.27,3364.77 1818.39,3365.02 C1824.51,3365.27 1830.63,3365.55 1836.75,3365.84 C1842.87,3366.13 1848.99,3366.44 1855.11,3366.78 C1861.23,3367.12 1867.34,3367.48 1873.46,3367.86 C1879.58,3368.24 1885.7,3368.64 1891.82,3369.06 C1897.94,3369.48 1904.05,3369.93 1910.17,3370.4 C1916.29,3370.87 1922.41,3371.37 1928.53,3371.88 C1934.65,3372.39 1940.77,3372.93 1946.89,3373.49 C1953.01,3374.05 1959.12,3374.64 1965.24,3375.25 C1971.36,3375.86 1980.54,3376.84 1983.6,3377.16" fill="none" stroke="#ff0000" stroke-width="5.0"/>
</g>
<g stroke="#1f1f1f" fill="none" stroke-linecap="butt">
<line x1="192.2" y1="2840" x2="192.2" y2="3842.95" stroke-width="2.1"/>
<line x1="191.15" y1="3841.5" x2="2011.9" y2="3841.5" stroke-width="2.9"/>
<line x1="191.15" y1="2840" x2="2011.9" y2="2840" stroke-width="2.0"/>
<path d="M221.4,3841.5v-19.8 M221.4,2840v19.8 M368.25,3841.5v-19.8 M368.25,2840v19.8 M515.1,3841.5v-19.8 M515.1,2840v19.8 M661.95,3841.5v-19.8 M661.95,2840v19.8 M808.8,3841.5v-19.8 M808.8,2840v19.8 M955.65,3841.5v-19.8 M955.65,2840v19.8 M1102.5,3841.5v-19.8 M1102.5,2840v19.8 M1249.35,3841.5v-19.8 M1249.35,2840v19.8 M1396.2,3841.5v-19.8 M1396.2,2840v19.8 M1543.05,3841.5v-19.8 M1543.05,2840v19.8 M1689.9,3841.5v-19.8 M1689.9,2840v19.8 M1836.75,3841.5v-19.8 M1836.75,2840v19.8 M1983.6,3841.5v-19.8 M1983.6,2840v19.8 M192.2,2945.1h19.8 M2011.9,2945.1h-19.8 M192.2,3120.86h19.8 M2011.9,3120.86h-19.8 M192.2,3296.62h19.8 M2011.9,3296.62h-19.8 M192.2,3472.38h19.8 M2011.9,3472.38h-19.8 M192.2,3648.14h19.8 M2011.9,3648.14h-19.8 M192.2,3823.9h19.8 M2011.9,3823.9h-19.8" stroke-width="2.6"/>
</g>
<g font-family="'Liberation Sans', sans-serif" font-size="50.2" fill="#1f1f1f" stroke="#1f1f1f" stroke-width="0.4">
<text transform="translate(221.4,3888.4) scale(0.99,1)" text-anchor="middle" dominant-baseline="central">1</text>
<text transform="translate(368.25,3888.4) scale(0.99,1)" text-anchor="middle" dominant-baseline="central">2</text>
<text transform="translate(515.1,3888.4) scale(0.99,1)" text-anchor="middle" dominant-baseline="central">3</text>
<text transform="translate(661.95,3888.4) scale(0.99,1)" text-anchor="middle" dominant-baseline="central">4</text>
<text transform="translate(808.8,3888.4) scale(0.99,1)" text-anchor="middle" dominant-baseline="central">5</text>
<text transform="translate(955.65,3888.4) scale(0.99,1)" text-anchor="middle" dominant-baseline="central">6</text>
<text transform="translate(1102.5,3888.4) scale(0.99,1)" text-anchor="middle" dominant-baseline="central">7</text>
<text transform="translate(1249.35,3888.4) scale(0.99,1)" text-anchor="middle" dominant-baseline="central">8</text>
<text transform="translate(1396.2,3888.4) scale(0.99,1)" text-anchor="middle" dominant-baseline="central">9</text>
<text transform="translate(1543.05,3888.4) scale(0.99,1)" text-anchor="middle" dominant-baseline="central">10</text>
<text transform="translate(1689.9,3888.4) scale(0.99,1)" text-anchor="middle" dominant-baseline="central">11</text>
<text transform="translate(1836.75,3888.4) scale(0.99,1)" text-anchor="middle" dominant-baseline="central">12</text>
<text transform="translate(1983.6,3888.4) scale(0.99,1)" text-anchor="middle" dominant-baseline="central">13</text>
<text transform="translate(179.3,2946.9) scale(0.99,1)" text-anchor="end" dominant-baseline="central">40</text>
<text transform="translate(179.3,3122.66) scale(0.99,1)" text-anchor="end" dominant-baseline="central">60</text>
<text transform="translate(179.3,3298.42) scale(0.99,1)" text-anchor="end" dominant-baseline="central">80</text>
<text transform="translate(179.3,3474.18) scale(0.99,1)" text-anchor="end" dominant-baseline="central">100</text>
<text transform="translate(179.3,3649.94) scale(0.99,1)" text-anchor="end" dominant-baseline="central">120</text>
<text transform="translate(179.3,3825.7) scale(0.99,1)" text-anchor="end" dominant-baseline="central">140</text>
<text transform="translate(1103.05,3952.8) scale(0.99,1)" text-anchor="middle" dominant-baseline="central">Date</text>
<text transform="translate(59,3341.5) rotate(-90) scale(1.012,1)" text-anchor="middle" dominant-baseline="central">Depth(m)</text>
</g>
<rect x="1265" y="2859.5" width="727.6" height="178.8" fill="#fff" stroke="#151515" stroke-width="2.6"/>
<circle cx="1310" cy="2891.3" r="3.9" fill="#0000ff"/>
<line x1="1278" y1="2949.5" x2="1343.5" y2="2949.5" stroke="#ff0000" stroke-width="5.6"/>
<line x1="1278" y1="3006" x2="1343.5" y2="3006" stroke="#ff0000" stroke-width="5.4" stroke-dasharray="12.7 12.3"/>
<g font-family="'Liberation Sans', sans-serif" font-size="43.9" fill="#000" stroke="#000" stroke-width="0.35">
<text transform="translate(1346.4,2892.5) scale(1.026,1)" dominant-baseline="central">Water levels of line 3</text>
<text transform="translate(1346.4,2950.7) scale(1.026,1)" dominant-baseline="central">Fitting result of water levels</text>
<text transform="translate(1346.4,3007.2) scale(1.026,1)" dominant-baseline="central">Prediction bounds of water level</text>
</g>
</g>
<g font-family="'Liberation Serif', 'DejaVu Serif', serif" fill="#000">
<text y="1316.8"><tspan x="839.7" font-size="90">(</tspan><tspan x="867.8" font-size="92" font-weight="bold">a</tspan><tspan x="906.2" font-size="90">) </tspan><tspan x="962.0" font-size="102" style="letter-spacing:4.3px;word-spacing:-12.5px">line 1</tspan></text>
<text y="2714.5"><tspan x="857.6" font-size="88">(</tspan><tspan x="884.5" font-size="90" font-weight="bold">b</tspan><tspan x="933.4" font-size="88">) </tspan><tspan x="982.6" font-size="85" style="letter-spacing:3.8px;word-spacing:-9.5px">line 2</tspan></text>
<text y="4186.5"><tspan x="861.3" font-size="105">(</tspan><tspan x="896" font-size="85" font-weight="bold">c</tspan><tspan x="930.4" font-size="90">) </tspan><tspan x="979.6" font-size="85" style="letter-spacing:4.4px;word-spacing:-11.5px">line 3</tspan></text>
</g>
</svg>
</body>
</html>
